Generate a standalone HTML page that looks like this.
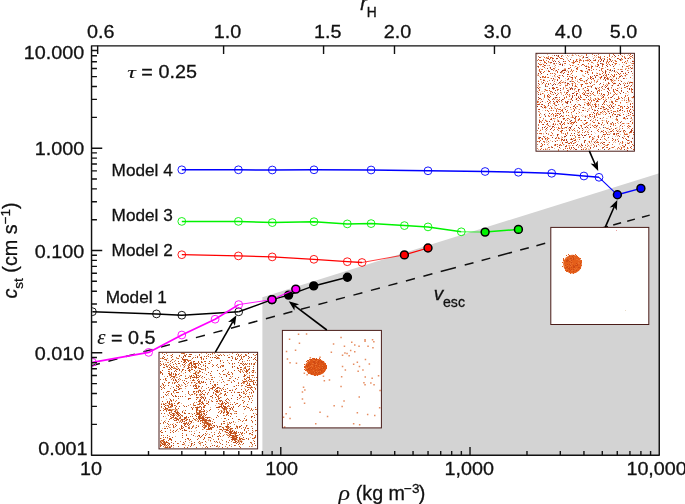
<!DOCTYPE html>
<html lang="en"><head><meta charset="utf-8"><title>c_st vs rho</title>
<style>html,body{margin:0;padding:0;background:#fff;overflow:hidden;}svg{display:block;}text{font-family:"Liberation Sans",Arial,Helvetica,sans-serif;fill:#111;stroke:#111;stroke-width:0.3px;}.it{font-family:"Liberation Serif","DejaVu Serif",serif;font-style:italic;stroke-width:0.1px;}.si{font-style:italic;}</style></head><body>
<svg width="685" height="504" viewBox="0 0 685 504">
<rect x="0" y="0" width="685" height="504" fill="#ffffff"/>
<polygon points="262.4,297.2 659.25,173.2 659.25,455.15 262.4,455.15" fill="#d3d3d3"/>
<path d="M91.5 365.80L99.9 363.55 M108.4 361.25L117.4 358.82 M125.9 356.53L134.9 354.10 M143.4 351.80L152.4 349.37 M160.9 347.08L169.9 344.65 M178.4 342.35L187.4 339.92 M195.9 337.63L204.9 335.20 M213.4 332.90L222.4 330.47 M230.9 328.18L239.9 325.75 M248.4 323.45L257.4 321.02 M265.9 318.73L274.9 316.30 M283.4 314.00L292.4 311.57 M300.9 309.28L309.9 306.85 M318.4 304.55L327.4 302.12 M335.9 299.83L344.9 297.40 M353.4 295.10L362.4 292.67 M370.9 290.38L379.9 287.95 M388.4 285.65L397.4 283.22 M405.9 280.93L414.9 278.50 M423.4 276.20L432.4 273.77 M440.7 271.53L455.9 267.43 M464.7 265.05L473.5 262.67 M481.6 260.49L490.3 258.14 M498.0 256.06L512.0 252.28 M520.2 250.06L528.8 247.74 M536.4 245.69L545.2 243.31 M553.5 241.07L562.0 238.78 M570.0 236.62L578.5 234.32 M586.0 232.30L594.5 230.00 M600.0 228.52L608.0 226.36 M613.2 224.95L621.1 222.82 M627.2 221.17L634.9 219.10 M642.0 217.18L649.7 215.10" stroke="#111" stroke-width="1.5" fill="none"/>
<clipPath id="cp"><rect x="91.55" y="45.85" width="567.7" height="409.29999999999995"/></clipPath>
<g clip-path="url(#cp)">
<polyline points="181.8,169.8 238.4,169.8 272.3,170.0 314.0,169.8 371.1,170.0 428.0,170.8 485.1,171.5 518.4,172.3 551.7,173.3 583.9,176.0 599.0,177.3" fill="none" stroke="#0000ff" stroke-width="1.5" stroke-linejoin="round"/>
<polyline points="599.0,177.3 617.4,194.8" fill="none" stroke="#0000ff" stroke-width="1.1"/>
<polyline points="617.4,194.8 640.9,188.4" fill="none" stroke="#0000ff" stroke-width="1.5" stroke-linejoin="round"/>
<circle cx="181.8" cy="169.8" r="3.9" fill="none" stroke="#0000ff" stroke-width="0.9"/>
<circle cx="238.4" cy="169.8" r="3.9" fill="none" stroke="#0000ff" stroke-width="0.9"/>
<circle cx="272.3" cy="170.0" r="3.9" fill="none" stroke="#0000ff" stroke-width="0.9"/>
<circle cx="314.0" cy="169.8" r="3.9" fill="none" stroke="#0000ff" stroke-width="0.9"/>
<circle cx="371.1" cy="170.0" r="3.9" fill="none" stroke="#0000ff" stroke-width="0.9"/>
<circle cx="428.0" cy="170.8" r="3.9" fill="none" stroke="#0000ff" stroke-width="0.9"/>
<circle cx="485.1" cy="171.5" r="3.9" fill="none" stroke="#0000ff" stroke-width="0.9"/>
<circle cx="518.4" cy="172.3" r="3.9" fill="none" stroke="#0000ff" stroke-width="0.9"/>
<circle cx="551.7" cy="173.3" r="3.9" fill="none" stroke="#0000ff" stroke-width="0.9"/>
<circle cx="583.9" cy="176.0" r="3.9" fill="none" stroke="#0000ff" stroke-width="0.9"/>
<circle cx="599.0" cy="177.3" r="3.9" fill="none" stroke="#0000ff" stroke-width="0.9"/>
<circle cx="617.4" cy="194.8" r="3.95" fill="#0000ff" stroke="#000" stroke-width="1.5"/>
<circle cx="640.9" cy="188.4" r="3.95" fill="#0000ff" stroke="#000" stroke-width="1.5"/>
<polyline points="181.8,221.4 238.4,221.4 272.3,222.6 314.0,221.7 347.3,223.9 371.1,223.6 404.4,225.6 428.0,226.9 461.3,231.8" fill="none" stroke="#00f200" stroke-width="1.5" stroke-linejoin="round"/>
<polyline points="461.3,231.8 485.1,232.1" fill="none" stroke="#00f200" stroke-width="0.75"/>
<polyline points="485.1,232.1 518.4,229.4" fill="none" stroke="#00f200" stroke-width="1.5" stroke-linejoin="round"/>
<circle cx="181.8" cy="221.4" r="3.9" fill="none" stroke="#00f200" stroke-width="0.9"/>
<circle cx="238.4" cy="221.4" r="3.9" fill="none" stroke="#00f200" stroke-width="0.9"/>
<circle cx="272.3" cy="222.6" r="3.9" fill="none" stroke="#00f200" stroke-width="0.9"/>
<circle cx="314.0" cy="221.7" r="3.9" fill="none" stroke="#00f200" stroke-width="0.9"/>
<circle cx="347.3" cy="223.9" r="3.9" fill="none" stroke="#00f200" stroke-width="0.9"/>
<circle cx="371.1" cy="223.6" r="3.9" fill="none" stroke="#00f200" stroke-width="0.9"/>
<circle cx="404.4" cy="225.6" r="3.9" fill="none" stroke="#00f200" stroke-width="0.9"/>
<circle cx="428.0" cy="226.9" r="3.9" fill="none" stroke="#00f200" stroke-width="0.9"/>
<circle cx="461.3" cy="231.8" r="3.9" fill="none" stroke="#00f200" stroke-width="0.9"/>
<circle cx="485.1" cy="232.1" r="3.95" fill="#00f200" stroke="#000" stroke-width="1.5"/>
<circle cx="518.4" cy="229.4" r="3.95" fill="#00f200" stroke="#000" stroke-width="1.5"/>
<polyline points="181.8,254.7 238.4,255.9 272.2,256.9 313.9,259.3 347.3,261.7 362.0,262.5" fill="none" stroke="#ff0000" stroke-width="1.3" stroke-linejoin="round"/>
<polyline points="362.0,262.5 404.4,254.9" fill="none" stroke="#ff0000" stroke-width="0.75"/>
<polyline points="404.4,254.9 428.0,248.0" fill="none" stroke="#ff0000" stroke-width="1.3" stroke-linejoin="round"/>
<circle cx="181.8" cy="254.7" r="3.9" fill="none" stroke="#ff0000" stroke-width="0.9"/>
<circle cx="238.4" cy="255.9" r="3.9" fill="none" stroke="#ff0000" stroke-width="0.9"/>
<circle cx="272.2" cy="256.9" r="3.9" fill="none" stroke="#ff0000" stroke-width="0.9"/>
<circle cx="313.9" cy="259.3" r="3.9" fill="none" stroke="#ff0000" stroke-width="0.9"/>
<circle cx="347.3" cy="261.7" r="3.9" fill="none" stroke="#ff0000" stroke-width="0.9"/>
<circle cx="362.0" cy="262.5" r="3.9" fill="none" stroke="#ff0000" stroke-width="0.9"/>
<circle cx="404.4" cy="254.9" r="3.95" fill="#ff0000" stroke="#000" stroke-width="1.5"/>
<circle cx="428.0" cy="248.0" r="3.95" fill="#ff0000" stroke="#000" stroke-width="1.5"/>
<polyline points="92.4,311.7 156.5,313.9 181.8,315.2 238.7,311.8" fill="none" stroke="#000000" stroke-width="1.5" stroke-linejoin="round"/>
<polyline points="238.7,311.8 272.0,299.6" fill="none" stroke="#000000" stroke-width="1.5"/>
<polyline points="272.0,299.6 288.6,295.1 313.7,285.9 347.4,277.2" fill="none" stroke="#000000" stroke-width="1.5" stroke-linejoin="round"/>
<circle cx="92.4" cy="311.7" r="3.9" fill="none" stroke="#000000" stroke-width="0.9"/>
<circle cx="156.5" cy="313.9" r="3.9" fill="none" stroke="#000000" stroke-width="0.9"/>
<circle cx="181.8" cy="315.2" r="3.9" fill="none" stroke="#000000" stroke-width="0.9"/>
<circle cx="238.7" cy="311.8" r="3.9" fill="none" stroke="#000000" stroke-width="0.9"/>
<circle cx="272.0" cy="299.6" r="3.95" fill="#000000" stroke="#000" stroke-width="1.5"/>
<circle cx="288.6" cy="295.1" r="3.95" fill="#000000" stroke="#000" stroke-width="1.5"/>
<circle cx="313.7" cy="285.9" r="3.95" fill="#000000" stroke="#000" stroke-width="1.5"/>
<circle cx="347.4" cy="277.2" r="3.95" fill="#000000" stroke="#000" stroke-width="1.5"/>
<polyline points="92.4,362.3 148.6,352.4 181.8,335.0 215.1,319.2 238.7,304.6" fill="none" stroke="#ff00ff" stroke-width="1.7" stroke-linejoin="round"/>
<polyline points="238.7,304.6 272.0,299.6" fill="none" stroke="#ff00ff" stroke-width="0.9"/>
<polyline points="272.0,299.6 295.8,289.1" fill="none" stroke="#ff00ff" stroke-width="1.1" stroke-linejoin="round"/>
<circle cx="92.4" cy="362.3" r="3.9" fill="none" stroke="#ff00ff" stroke-width="0.9"/>
<circle cx="148.6" cy="352.4" r="3.9" fill="none" stroke="#ff00ff" stroke-width="0.9"/>
<circle cx="181.8" cy="335.0" r="3.9" fill="none" stroke="#ff00ff" stroke-width="0.9"/>
<circle cx="215.1" cy="319.2" r="3.9" fill="none" stroke="#ff00ff" stroke-width="0.9"/>
<circle cx="238.7" cy="304.6" r="3.9" fill="none" stroke="#ff00ff" stroke-width="0.9"/>
<circle cx="272.0" cy="299.6" r="3.95" fill="#ff00ff" stroke="#000" stroke-width="1.5"/>
<circle cx="295.8" cy="289.1" r="3.95" fill="#ff00ff" stroke="#000" stroke-width="1.5"/>
</g>
<rect x="536.0" y="53.3" width="98.4" height="97.9" fill="#ffffff"/>
<path d="M554 103.5h1M597 130.5h1M546 83.5h1M631 146.5h1M587 60.5h1M633 149.5h1M567 76.5h1M612 80.5h1M629 126.5h1M548 77.5h1M555 124.5h1M549 116.5h1M548 94.5h1M557 79.5h1M565 61.5h1M592 137.5h1M608 144.5h1M555 145.5h1M540 146.5h1M553 123.5h1M543 76.5h1M590 136.5h1M579 60.5h1M550 57.5h1M604 146.5h1M539 115.5h1M567 150.5h1M608 121.5h1M545 126.5h1M579 139.5h1M621 91.5h1M550 101.5h1M580 80.5h1M557 94.5h1M597 101.5h1M544 57.5h1M621 58.5h1M550 58.5h1M602 73.5h1M582 71.5h1M538 99.5h1M604 104.5h1M574 130.5h1M624 62.5h1M573 108.5h1M628 98.5h1M606 132.5h1M544 96.5h1M569 129.5h1M550 68.5h1M586 123.5h1M617 120.5h1M564 124.5h1M592 73.5h1M588 102.5h1M615 140.5h1M555 113.5h1M588 96.5h1M588 69.5h1M619 76.5h1M626 63.5h1M594 55.5h1M586 55.5h1M623 131.5h1M604 136.5h1M615 93.5h1M623 138.5h1M598 114.5h1M633 115.5h1M573 63.5h1M594 127.5h1M541 143.5h1M552 99.5h1M572 81.5h1M560 58.5h1M609 59.5h1M632 144.5h1M578 100.5h1M630 77.5h1M579 118.5h1M593 94.5h1M611 105.5h1M633 145.5h1M607 77.5h1M547 139.5h1M612 114.5h1M540 60.5h1M597 64.5h1M590 114.5h1M615 89.5h1M544 62.5h1M591 100.5h1M572 65.5h1M625 96.5h1M627 140.5h1M572 89.5h1M545 62.5h1M558 127.5h1M575 86.5h1M587 122.5h1M608 149.5h1M542 83.5h1M587 103.5h1M563 149.5h1M600 77.5h1M572 130.5h1M552 69.5h1M544 80.5h1M583 99.5h1M629 110.5h1M616 74.5h1M589 104.5h1M581 147.5h1M605 77.5h1M614 74.5h1M607 85.5h1M616 63.5h1M602 122.5h1M545 76.5h1M625 95.5h1M575 121.5h1M600 112.5h1M632 103.5h1M605 134.5h1M597 73.5h1M545 77.5h1M568 143.5h1M548 147.5h1M591 79.5h1M615 111.5h1M564 140.5h1M617 72.5h1M573 111.5h1M550 91.5h1M598 57.5h1M629 111.5h1M582 93.5h1M583 149.5h1M594 60.5h1M542 120.5h1M540 140.5h1M627 148.5h1M565 142.5h1M623 73.5h1M617 88.5h1M541 64.5h1M605 73.5h1M572 117.5h1M579 104.5h1M561 131.5h1M632 57.5h1M581 126.5h1M585 71.5h1M612 130.5h1M559 101.5h1M594 122.5h1M543 141.5h1M562 110.5h1M542 93.5h1M572 75.5h1M630 58.5h1M577 61.5h1M540 149.5h1M559 78.5h1M590 77.5h1M620 110.5h1M622 98.5h1M552 73.5h1M566 97.5h1M620 73.5h1M567 94.5h1M564 122.5h1M576 91.5h1M553 118.5h1M569 94.5h1M604 56.5h1M539 87.5h1M622 108.5h1M624 57.5h1M566 88.5h1M589 114.5h1M591 134.5h1M552 113.5h1M609 105.5h1M543 60.5h1M546 121.5h1M613 91.5h1M605 85.5h1M605 114.5h1M549 90.5h1M593 144.5h1M630 67.5h1M597 92.5h1M541 122.5h1M632 65.5h1M589 100.5h1M572 83.5h1M614 68.5h1M584 65.5h1M558 100.5h1M544 71.5h1M583 94.5h1M614 92.5h1M542 107.5h1M539 70.5h1M548 61.5h1M613 124.5h1M602 71.5h1M537 102.5h1M575 85.5h1M563 119.5h1M598 90.5h1M603 97.5h1M613 103.5h1M560 131.5h1M589 141.5h1M548 71.5h1M543 149.5h1M578 55.5h1M597 81.5h1M603 99.5h1M571 73.5h1M566 93.5h1M551 114.5h1M576 98.5h1M559 109.5h1M602 97.5h1M627 91.5h1M565 120.5h1M601 77.5h1M545 89.5h1M573 123.5h1M581 84.5h1M557 89.5h1M608 62.5h1M597 125.5h1M561 132.5h1M607 128.5h1M549 108.5h1M576 59.5h1M576 113.5h1M539 64.5h1M572 95.5h1M630 54.5h1M586 126.5h1M627 126.5h1M608 94.5h1M625 61.5h1M609 90.5h1M580 96.5h1M607 61.5h1M601 106.5h1M566 145.5h1M548 138.5h1M584 120.5h1M574 128.5h1M594 104.5h1M574 109.5h1M609 64.5h1M612 75.5h1M628 123.5h1M549 100.5h1M595 106.5h1M542 144.5h1M559 97.5h1M601 60.5h1M587 88.5h1M585 73.5h1M604 94.5h1M550 83.5h1M627 147.5h1M596 113.5h1M610 131.5h1M587 86.5h1M553 68.5h1M559 117.5h1M562 104.5h1M613 129.5h1M573 60.5h1M550 119.5h1M628 97.5h1M543 72.5h1M558 61.5h1M626 102.5h1M618 98.5h1M542 69.5h1M581 71.5h1M596 89.5h1M577 106.5h1M581 86.5h1M627 136.5h1M593 69.5h1M570 107.5h1M537 101.5h1M562 109.5h1M579 62.5h1M614 76.5h1M616 130.5h1M561 140.5h1M565 134.5h1M631 142.5h1M603 130.5h1M605 131.5h1M615 83.5h1M539 69.5h1M603 103.5h1M628 115.5h1M576 93.5h1M559 99.5h1M578 120.5h1M598 144.5h1M551 107.5h1M563 123.5h1M578 64.5h1M592 125.5h1M567 148.5h1M575 139.5h1M561 130.5h1M621 97.5h1M608 82.5h1M578 116.5h1M558 128.5h1M616 134.5h1M607 145.5h1M553 114.5h1M595 98.5h1M616 90.5h1M621 75.5h1M558 113.5h1M569 96.5h1M553 88.5h1M543 64.5h1M539 121.5h1M571 88.5h1M566 111.5h1M622 126.5h1M613 139.5h1M613 113.5h1M564 72.5h1M608 97.5h1M625 134.5h1M544 77.5h1M630 106.5h1M551 91.5h1M598 64.5h1M594 110.5h1M623 118.5h1M592 114.5h1M600 74.5h1M615 123.5h1M540 130.5h1M550 73.5h1M567 79.5h1M574 105.5h1M631 89.5h1M591 77.5h1M544 137.5h1M541 133.5h1M540 57.5h1M551 108.5h1M627 66.5h1M572 122.5h1M571 112.5h1M633 134.5h1M550 93.5h1M591 66.5h1M568 112.5h1M598 60.5h1M612 147.5h1M576 71.5h1M602 147.5h1M540 98.5h1M589 136.5h1M559 57.5h1M570 65.5h1M622 107.5h1M598 99.5h1M564 98.5h1M585 131.5h1M575 142.5h1M583 88.5h1M602 68.5h1M599 99.5h1M557 115.5h1M540 102.5h1M572 71.5h1M621 147.5h1M576 116.5h1M625 83.5h1M622 62.5h1M561 127.5h1M558 138.5h1M571 99.5h1M607 57.5h1M598 131.5h1M568 72.5h1M545 107.5h1M601 69.5h1M586 122.5h1M601 93.5h1M581 78.5h1M552 133.5h1M544 95.5h1M539 84.5h1M613 62.5h1M611 124.5h1M617 119.5h1M616 61.5h1M560 124.5h1M569 76.5h1M584 90.5h1M583 56.5h1M621 88.5h1M613 134.5h1M623 123.5h1M601 98.5h1M619 59.5h1M541 99.5h1M563 118.5h1M624 133.5h1M559 77.5h1M538 63.5h1M618 58.5h1M612 140.5h1M568 115.5h1M557 76.5h1M626 134.5h1M542 124.5h1M632 97.5h1M575 77.5h1M569 61.5h1M596 115.5h1M548 111.5h1M569 148.5h1M565 101.5h1M604 111.5h1M632 128.5h1M597 112.5h1M567 118.5h1M622 142.5h1M542 139.5h1M615 101.5h1M592 93.5h1M564 139.5h1M559 75.5h1M551 57.5h1M572 145.5h1M567 133.5h1M589 59.5h1M613 54.5h1M545 120.5h1M574 148.5h1M548 115.5h1M584 141.5h1M614 75.5h1M632 82.5h1M630 126.5h1M613 108.5h1M577 67.5h1M617 110.5h1M627 110.5h1M590 93.5h1M538 109.5h1M547 58.5h1M606 75.5h1M548 96.5h1M622 145.5h1M554 129.5h1M581 120.5h1M574 62.5h1M571 70.5h1M605 70.5h1M598 98.5h1M579 137.5h1M613 111.5h1M594 80.5h1M589 137.5h1M584 81.5h1M579 119.5h1M628 125.5h1M545 149.5h1M538 59.5h1M624 118.5h1M583 64.5h1M546 57.5h1M545 106.5h1M610 97.5h1M604 134.5h1M549 102.5h1M578 132.5h1M611 101.5h1M603 84.5h1M575 78.5h1M547 101.5h1M559 128.5h1M610 76.5h1M595 104.5h1M599 93.5h1M618 105.5h1M621 148.5h1M600 78.5h1M560 83.5h1M580 95.5h1M616 94.5h1M538 138.5h1M546 90.5h1M593 122.5h1M551 78.5h1M575 140.5h1M571 122.5h1M609 61.5h1M551 118.5h1M566 146.5h1M539 104.5h1M610 69.5h1M544 67.5h1M539 133.5h1M544 144.5h1M594 100.5h1M547 127.5h1M621 106.5h1M627 106.5h1M579 112.5h1M557 101.5h1M620 102.5h1M553 58.5h1M561 145.5h1M581 125.5h1M548 125.5h1M609 55.5h1M581 97.5h1M598 129.5h1M580 59.5h1M587 83.5h1M558 69.5h1M556 111.5h1M588 86.5h1M547 137.5h1M544 61.5h1M588 63.5h1M550 62.5h1M610 65.5h1M593 92.5h1M570 67.5h1M571 143.5h1M588 74.5h1M618 97.5h1M589 115.5h1M619 74.5h1M596 114.5h1M630 114.5h1M553 94.5h1M603 142.5h1M594 117.5h1M633 61.5h1M630 82.5h1M592 85.5h1M603 132.5h1M631 88.5h1M539 138.5h1M627 60.5h1M628 68.5h1M576 86.5h1M598 142.5h1M572 135.5h1M625 145.5h1M550 96.5h1M564 97.5h1M626 86.5h1M557 72.5h1M582 110.5h1M606 62.5h1M580 78.5h1M537 87.5h1M547 96.5h1M632 122.5h1M633 132.5h1M557 146.5h1M584 104.5h1M553 87.5h1M630 132.5h1M583 60.5h1M565 63.5h1M615 63.5h1M597 139.5h1M544 105.5h1M542 76.5h1M565 127.5h1M559 64.5h1M622 128.5h1M618 80.5h1M545 85.5h1M559 114.5h1M582 130.5h1M600 57.5h1M633 110.5h1M545 65.5h1M605 100.5h1M618 55.5h1M615 104.5h1M576 76.5h1M622 56.5h1M567 110.5h1M576 60.5h1M539 90.5h1M585 145.5h1M578 119.5h1M572 78.5h1M585 66.5h1M584 93.5h1M602 111.5h1M561 110.5h1M620 106.5h1M581 85.5h1M579 89.5h1M562 142.5h1M590 148.5h1M597 142.5h1M599 70.5h1M620 115.5h1M574 95.5h1M609 142.5h1M625 75.5h1M616 99.5h1M584 99.5h1M560 144.5h1M540 79.5h1M557 144.5h1M620 60.5h1M576 122.5h1M585 83.5h1M562 82.5h1M586 54.5h1M571 138.5h1M613 83.5h1M623 114.5h1M557 108.5h1M604 138.5h1M624 111.5h1M565 148.5h1M627 108.5h1M589 82.5h1M542 138.5h1M607 147.5h1M538 92.5h1M537 141.5h1M562 116.5h1M599 87.5h1M624 87.5h1M602 66.5h1M551 135.5h1M595 125.5h1M612 82.5h1M573 62.5h1M573 138.5h1M570 123.5h1M633 63.5h1M609 58.5h1M581 134.5h1M632 123.5h1M597 75.5h1M571 133.5h1M622 141.5h1M540 117.5h1M561 139.5h1M588 67.5h1M555 115.5h1M585 123.5h1M589 142.5h1M618 135.5h1M554 121.5h1M548 141.5h1M629 132.5h1M540 133.5h1M541 104.5h1M626 108.5h1M566 115.5h1M613 90.5h1M547 110.5h1M591 67.5h1M537 104.5h1M592 72.5h1M562 143.5h1M568 74.5h1M570 142.5h1M610 108.5h1M580 70.5h1M599 123.5h1M561 58.5h1M598 136.5h1M577 69.5h1M603 64.5h1M587 71.5h1M563 76.5h1M632 107.5h1M565 85.5h1M565 69.5h1M618 147.5h1M538 81.5h1M557 71.5h1" stroke="#de5a20" stroke-width="1" fill="none" shape-rendering="crispEdges"/><path d="M539 98.5h1M579 135.5h1M544 114.5h1M557 80.5h1M630 131.5h1M566 139.5h1M572 97.5h1M625 73.5h1M592 66.5h1M571 139.5h1M620 109.5h1M593 112.5h1M632 138.5h1M607 91.5h1M604 101.5h1M556 70.5h1M624 117.5h1M556 95.5h1M563 70.5h1M605 71.5h1M596 126.5h1M549 97.5h1M598 123.5h1M590 127.5h1M583 57.5h1M614 70.5h1M567 90.5h1M557 135.5h1M630 104.5h1M603 60.5h1M588 93.5h1M562 99.5h1M582 84.5h1M548 103.5h1M573 93.5h1M613 66.5h1M538 73.5h1M585 127.5h1M585 120.5h1M555 61.5h1M631 131.5h1M538 88.5h1M600 108.5h1M541 73.5h1M553 101.5h1M587 111.5h1M552 126.5h1M574 140.5h1M572 100.5h1M544 65.5h1M615 114.5h1M578 89.5h1M611 61.5h1M625 144.5h1M614 83.5h1M567 92.5h1M560 88.5h1M613 106.5h1M621 81.5h1M587 127.5h1M594 75.5h1M553 126.5h1M562 139.5h1M598 149.5h1M551 128.5h1M618 133.5h1M619 83.5h1M573 106.5h1M574 118.5h1M606 86.5h1M631 130.5h1M624 106.5h1M570 102.5h1M571 98.5h1M624 149.5h1M600 83.5h1M614 55.5h1M591 86.5h1M597 120.5h1M610 126.5h1M576 95.5h1M624 146.5h1M548 105.5h1M566 102.5h1M555 138.5h1M622 110.5h1M590 116.5h1M585 135.5h1M602 104.5h1M579 128.5h1M562 130.5h1M553 78.5h1M540 77.5h1M605 80.5h1M545 138.5h1M557 58.5h1M591 131.5h1M631 82.5h1M620 76.5h1M542 101.5h1M568 78.5h1M576 94.5h1M621 90.5h1M631 68.5h1M537 106.5h1M586 66.5h1M552 137.5h1M569 127.5h1M617 131.5h1M601 76.5h1M554 55.5h1M603 94.5h1M548 58.5h1M614 134.5h1M541 60.5h1M571 126.5h1M604 78.5h1M624 85.5h1M608 74.5h1M547 68.5h1M554 88.5h1M586 57.5h1M617 116.5h1M620 122.5h1M580 105.5h1M544 107.5h1M607 88.5h1M570 121.5h1M564 136.5h1M608 111.5h1M623 78.5h1M630 147.5h1M632 92.5h1M616 116.5h1M575 117.5h1M548 99.5h1M628 140.5h1M588 105.5h1M565 146.5h1M600 139.5h1M585 140.5h1M578 97.5h1M542 104.5h1M595 110.5h1M567 102.5h1M542 127.5h1M612 96.5h1M548 84.5h1M588 134.5h1M578 90.5h1M602 143.5h1M556 87.5h1M631 85.5h1M562 124.5h1M590 147.5h1M566 135.5h1M556 105.5h1M565 136.5h1M561 56.5h1M619 136.5h1M611 79.5h1M559 145.5h1M600 61.5h1M539 109.5h1M587 72.5h1M583 107.5h1M628 143.5h1M539 57.5h1M538 128.5h1M561 100.5h1M544 127.5h1M576 149.5h1M569 130.5h1M569 143.5h1M628 72.5h1M570 59.5h1M566 127.5h1M555 144.5h1M553 124.5h1M585 116.5h1M538 83.5h1M564 70.5h1M584 142.5h1M585 95.5h1M585 87.5h1M614 71.5h1M626 116.5h1M620 84.5h1M597 66.5h1M612 138.5h1M613 76.5h1M555 116.5h1M628 113.5h1M540 137.5h1M588 99.5h1M610 59.5h1M610 116.5h1M582 145.5h1M543 80.5h1M603 96.5h1M549 59.5h1M582 64.5h1M628 136.5h1M583 110.5h1M572 96.5h1M580 99.5h1M631 129.5h1M600 118.5h1M538 94.5h1M610 79.5h1M596 75.5h1M575 149.5h1M555 141.5h1M574 110.5h1M561 121.5h1M612 85.5h1M570 127.5h1M561 71.5h1M622 137.5h1M562 65.5h1M558 56.5h1M575 107.5h1M632 61.5h1M632 55.5h1M578 127.5h1M553 98.5h1M591 91.5h1M616 78.5h1M605 72.5h1M559 82.5h1M597 91.5h1M606 101.5h1M568 68.5h1M594 142.5h1M540 72.5h1M582 135.5h1M588 90.5h1M609 129.5h1M604 142.5h1M608 137.5h1M592 139.5h1M555 97.5h1M618 73.5h1M601 124.5h1M575 61.5h1M627 86.5h1M550 129.5h1M556 58.5h1M566 142.5h1M624 130.5h1M630 112.5h1M549 121.5h1M594 113.5h1M611 112.5h1M570 88.5h1M538 97.5h1M540 94.5h1M571 147.5h1M546 63.5h1M582 128.5h1M579 98.5h1M602 64.5h1M617 90.5h1M631 71.5h1M549 88.5h1M560 116.5h1M555 84.5h1M602 86.5h1M563 59.5h1M565 82.5h1M612 107.5h1M609 113.5h1M584 124.5h1M576 99.5h1M562 64.5h1M586 80.5h1M607 134.5h1M617 58.5h1M556 97.5h1M596 88.5h1M601 59.5h1M623 92.5h1M558 55.5h1M566 140.5h1M615 128.5h1M620 125.5h1M562 75.5h1M570 128.5h1M609 148.5h1M584 94.5h1M603 134.5h1M552 147.5h1M572 141.5h1M543 82.5h1M603 75.5h1M550 67.5h1M594 116.5h1M614 133.5h1M539 137.5h1M576 68.5h1M552 80.5h1M578 135.5h1M556 55.5h1M560 113.5h1M563 112.5h1M593 78.5h1M595 77.5h1M546 128.5h1M597 110.5h1M598 137.5h1M590 76.5h1M565 109.5h1M586 97.5h1M563 73.5h1M597 100.5h1M596 106.5h1M607 123.5h1M632 113.5h1M622 71.5h1M552 88.5h1M559 147.5h1M561 122.5h1M584 135.5h1M567 101.5h1M619 110.5h1M560 90.5h1M556 101.5h1M560 72.5h1M545 116.5h1M551 119.5h1M612 64.5h1M586 68.5h1M607 78.5h1M539 141.5h1M629 89.5h1M600 58.5h1M598 108.5h1M603 107.5h1M560 64.5h1M611 131.5h1M627 118.5h1M564 118.5h1M577 144.5h1M606 108.5h1M621 71.5h1M628 99.5h1M590 78.5h1M570 135.5h1M607 69.5h1M552 92.5h1M618 141.5h1M572 85.5h1M576 145.5h1M588 118.5h1M568 123.5h1M612 102.5h1M587 90.5h1M574 133.5h1M547 95.5h1M589 69.5h1M627 150.5h1M603 61.5h1M596 101.5h1M581 70.5h1M608 83.5h1M543 124.5h1M553 84.5h1M563 140.5h1M596 146.5h1M610 70.5h1M554 63.5h1M611 97.5h1M628 58.5h1M604 59.5h1M539 120.5h1M620 131.5h1M626 139.5h1M547 123.5h1M627 83.5h1M557 113.5h1M603 147.5h1M601 131.5h1M551 62.5h1M553 61.5h1M549 113.5h1M558 121.5h1M622 66.5h1M606 65.5h1M608 89.5h1M558 77.5h1M541 106.5h1M583 137.5h1M611 106.5h1M562 128.5h1M629 88.5h1M612 122.5h1M555 93.5h1M572 77.5h1M552 58.5h1M605 87.5h1M573 147.5h1M631 141.5h1M620 54.5h1M567 83.5h1M539 122.5h1M557 134.5h1M618 85.5h1M615 56.5h1M608 88.5h1M590 120.5h1M575 104.5h1M630 121.5h1M555 90.5h1M609 107.5h1M565 70.5h1M574 122.5h1M595 105.5h1M588 103.5h1M598 65.5h1M561 115.5h1M632 89.5h1M592 109.5h1M577 93.5h1M566 106.5h1M568 83.5h1M587 95.5h1M579 79.5h1M625 58.5h1M630 109.5h1M607 66.5h1M573 143.5h1M613 89.5h1M595 60.5h1M608 92.5h1M590 83.5h1M546 133.5h1M571 77.5h1M595 88.5h1M538 66.5h1M576 125.5h1M570 89.5h1M604 109.5h1M538 104.5h1M620 93.5h1M567 74.5h1M581 144.5h1M567 103.5h1M572 93.5h1M628 107.5h1M549 71.5h1M543 136.5h1M632 106.5h1M557 102.5h1M541 146.5h1M581 149.5h1M562 70.5h1M563 61.5h1M604 77.5h1M547 74.5h1M633 96.5h1M590 60.5h1M617 99.5h1" stroke="#a8361e" stroke-width="1" fill="none" shape-rendering="crispEdges"/><path d="M585 117.5h1M581 80.5h1M617 122.5h1M546 60.5h1M590 97.5h1M545 110.5h1M560 111.5h1M561 72.5h1M553 89.5h1M631 117.5h1M577 130.5h1M596 142.5h1M568 118.5h1M605 109.5h1M566 130.5h1M538 67.5h1M597 117.5h1M614 146.5h1M563 87.5h1M597 141.5h1M557 140.5h1M631 148.5h1M567 141.5h1M615 60.5h1M558 104.5h1M598 104.5h1M618 108.5h1M630 103.5h1M591 101.5h1M629 142.5h1M549 95.5h1M626 66.5h1M612 56.5h1M547 124.5h1M567 142.5h1M558 150.5h1M560 123.5h1M575 120.5h1M591 68.5h1M554 73.5h1M542 145.5h1M608 93.5h1M597 93.5h1M610 93.5h1M631 56.5h1M590 102.5h1M632 115.5h1M615 61.5h1M595 59.5h1M544 141.5h1M606 99.5h1M631 132.5h1M594 115.5h1M609 72.5h1M625 138.5h1M563 95.5h1M589 61.5h1M557 87.5h1M611 74.5h1M568 106.5h1M557 117.5h1M606 120.5h1M571 123.5h1M555 108.5h1M617 108.5h1M554 127.5h1M589 108.5h1M616 118.5h1M617 139.5h1M614 94.5h1M577 68.5h1M573 70.5h1M540 64.5h1M554 75.5h1M559 123.5h1M554 81.5h1M615 100.5h1M625 87.5h1M605 112.5h1M568 79.5h1M537 133.5h1M606 63.5h1M567 84.5h1M596 82.5h1M554 92.5h1M617 111.5h1M547 90.5h1M552 127.5h1M592 121.5h1M560 109.5h1M540 71.5h1M591 70.5h1M587 79.5h1M601 68.5h1M591 141.5h1M587 104.5h1M606 140.5h1M609 83.5h1M585 92.5h1M566 92.5h1M601 137.5h1M546 130.5h1M568 60.5h1M575 88.5h1M593 58.5h1M604 144.5h1M558 83.5h1M595 76.5h1M558 109.5h1M554 68.5h1M538 101.5h1M578 96.5h1M591 106.5h1M632 68.5h1M580 125.5h1M574 82.5h1M574 135.5h1M573 129.5h1M557 99.5h1M573 61.5h1M571 69.5h1M627 88.5h1M610 123.5h1M624 56.5h1M568 91.5h1M589 67.5h1M605 79.5h1M539 114.5h1M601 142.5h1M597 62.5h1M578 91.5h1M568 101.5h1M551 110.5h1M604 107.5h1M574 89.5h1M593 99.5h1M554 99.5h1M596 145.5h1M563 133.5h1M630 86.5h1M570 139.5h1M568 71.5h1M606 78.5h1M631 91.5h1M603 106.5h1M572 79.5h1M623 83.5h1M556 137.5h1M563 144.5h1M620 149.5h1M629 55.5h1M587 131.5h1M632 63.5h1M592 76.5h1M572 115.5h1M608 106.5h1M588 145.5h1M558 93.5h1M628 85.5h1M599 74.5h1M619 114.5h1M548 134.5h1M601 94.5h1M575 137.5h1M549 149.5h1M584 76.5h1M563 116.5h1M612 101.5h1M596 140.5h1M569 84.5h1M549 65.5h1M580 60.5h1M577 81.5h1M579 145.5h1M593 106.5h1M601 87.5h1M601 112.5h1M558 149.5h1M618 69.5h1M551 132.5h1M607 122.5h1M598 135.5h1M575 83.5h1M608 79.5h1M572 84.5h1M594 146.5h1M561 80.5h1M613 95.5h1M619 92.5h1M617 85.5h1M567 132.5h1M612 115.5h1M598 56.5h1M592 54.5h1M602 148.5h1M553 110.5h1M552 87.5h1M593 100.5h1M592 78.5h1M540 121.5h1M591 107.5h1M569 68.5h1M628 127.5h1M607 79.5h1M588 78.5h1M621 69.5h1M607 105.5h1M572 124.5h1M591 87.5h1M547 144.5h1M619 129.5h1M583 61.5h1M587 146.5h1M537 60.5h1M613 147.5h1M569 87.5h1M559 138.5h1M566 85.5h1M573 81.5h1M594 125.5h1M582 132.5h1M622 123.5h1M610 104.5h1M591 82.5h1M558 130.5h1M586 148.5h1M606 76.5h1M555 74.5h1M595 141.5h1M543 118.5h1M607 59.5h1M598 101.5h1M603 144.5h1M608 78.5h1M556 109.5h1M560 85.5h1M543 59.5h1M629 65.5h1M624 78.5h1M622 59.5h1M575 116.5h1M544 91.5h1M548 83.5h1M558 137.5h1M575 118.5h1M606 145.5h1M605 127.5h1M608 109.5h1M563 88.5h1M573 117.5h1M613 125.5h1M551 146.5h1M605 75.5h1M558 89.5h1M571 148.5h1M594 136.5h1M562 55.5h1M602 120.5h1M538 75.5h1M560 81.5h1M631 118.5h1M554 102.5h1M547 81.5h1M555 65.5h1M556 115.5h1M553 70.5h1M585 91.5h1M574 106.5h1M573 122.5h1M612 60.5h1M619 148.5h1M603 72.5h1M607 109.5h1M616 119.5h1M552 60.5h1M588 66.5h1M562 111.5h1M542 66.5h1M595 119.5h1M632 130.5h1M583 92.5h1M572 139.5h1M623 130.5h1M595 99.5h1M544 142.5h1M550 106.5h1M628 137.5h1M560 107.5h1M581 65.5h1M616 101.5h1M599 89.5h1M572 116.5h1M594 84.5h1M571 142.5h1M623 146.5h1M613 133.5h1M541 69.5h1M629 83.5h1M545 139.5h1M611 110.5h1M537 148.5h1M548 70.5h1M606 128.5h1M627 134.5h1M627 70.5h1M632 73.5h1M566 96.5h1M565 94.5h1M627 111.5h1M611 80.5h1M544 122.5h1M607 60.5h1M622 143.5h1M547 86.5h1M627 143.5h1M595 87.5h1M557 124.5h1M551 147.5h1M584 140.5h1M614 98.5h1M617 114.5h1M570 149.5h1M555 105.5h1M588 60.5h1M609 134.5h1M549 147.5h1M537 130.5h1M604 58.5h1M602 65.5h1M606 121.5h1M593 60.5h1M629 82.5h1M579 131.5h1M560 92.5h1M590 105.5h1M537 66.5h1M602 131.5h1M617 133.5h1M578 137.5h1M615 125.5h1M619 98.5h1M581 60.5h1M620 107.5h1M599 114.5h1M562 58.5h1M626 74.5h1M620 69.5h1M599 84.5h1M617 148.5h1M568 90.5h1M539 89.5h1M595 107.5h1M593 147.5h1M611 81.5h1M554 145.5h1M538 111.5h1M606 113.5h1M601 108.5h1M604 95.5h1M553 103.5h1M624 97.5h1M613 131.5h1M562 137.5h1M592 104.5h1M539 71.5h1M626 100.5h1M614 80.5h1M558 120.5h1M593 126.5h1M633 97.5h1M575 66.5h1M594 95.5h1M602 95.5h1M628 100.5h1M538 124.5h1M610 60.5h1M554 60.5h1M606 147.5h1M580 97.5h1M572 55.5h1M563 99.5h1M584 132.5h1M594 145.5h1M548 56.5h1M578 147.5h1M621 121.5h1M596 55.5h1M618 114.5h1M602 63.5h1M546 124.5h1M553 115.5h1M578 104.5h1M542 77.5h1M574 92.5h1M609 56.5h1M582 80.5h1M600 143.5h1M540 113.5h1M553 130.5h1M607 64.5h1M629 57.5h1M591 62.5h1M542 129.5h1M565 133.5h1M593 118.5h1M561 125.5h1M599 91.5h1M625 131.5h1M631 90.5h1M569 119.5h1M545 129.5h1M611 102.5h1M604 89.5h1M586 60.5h1M580 146.5h1M537 91.5h1M614 111.5h1M603 125.5h1M598 54.5h1M575 119.5h1M564 63.5h1M588 132.5h1M570 101.5h1M556 110.5h1M545 84.5h1M577 134.5h1M562 71.5h1M586 134.5h1M538 56.5h1M600 56.5h1M575 136.5h1M561 126.5h1M589 70.5h1M615 139.5h1M613 123.5h1M612 144.5h1M581 145.5h1M565 102.5h1M624 136.5h1M593 138.5h1M556 63.5h1M585 149.5h1M607 144.5h1M627 95.5h1M564 92.5h1M588 125.5h1M602 136.5h1M552 141.5h1M619 77.5h1M610 117.5h1M572 62.5h1M630 56.5h1M592 116.5h1M595 103.5h1M624 134.5h1M602 88.5h1M601 63.5h1M599 127.5h1M570 71.5h1M544 97.5h1M571 87.5h1M579 109.5h1M547 121.5h1M601 90.5h1M622 76.5h1M590 95.5h1M567 55.5h1M547 77.5h1M599 67.5h1M586 83.5h1M598 61.5h1M624 100.5h1M588 89.5h1M603 79.5h1M598 88.5h1M618 78.5h1M620 142.5h1M606 133.5h1M599 57.5h1M619 105.5h1M537 144.5h1M616 133.5h1M541 148.5h1M611 87.5h1M599 90.5h1M604 102.5h1M609 70.5h1M564 69.5h1M625 69.5h1M550 135.5h1M590 99.5h1M611 128.5h1M557 90.5h1M609 54.5h1M607 95.5h1M611 123.5h1M587 93.5h1M592 62.5h1M567 85.5h1M543 66.5h1M554 83.5h1M605 139.5h1M585 60.5h1M598 122.5h1M618 96.5h1M538 125.5h1M549 80.5h1M606 74.5h1M601 70.5h1M596 69.5h1M553 63.5h1M558 134.5h1M549 126.5h1M539 60.5h1M615 64.5h1M614 114.5h1M554 104.5h1M603 117.5h1M557 129.5h1M569 147.5h1M567 120.5h1" stroke="#d8794e" stroke-width="1" fill="none" shape-rendering="crispEdges"/><path d="M580 107.5h1M585 110.5h1M545 131.5h1M600 113.5h1M552 55.5h1M587 115.5h1M564 61.5h1M610 92.5h1M618 91.5h1M629 135.5h1M624 99.5h1M631 92.5h1M611 85.5h1M629 100.5h1M554 69.5h1M624 132.5h1M622 112.5h1M559 121.5h1M561 133.5h1M596 81.5h1M538 80.5h1M538 141.5h1M583 124.5h1M544 106.5h1M613 142.5h1M570 120.5h1M607 110.5h1M579 134.5h1M539 111.5h1M561 55.5h1M566 119.5h1M614 141.5h1M593 84.5h1M605 145.5h1M631 97.5h1M580 56.5h1M616 77.5h1M599 73.5h1M588 130.5h1M619 87.5h1M628 101.5h1M618 140.5h1M575 131.5h1M556 114.5h1M598 105.5h1M608 132.5h1M624 84.5h1M622 67.5h1M547 57.5h1M590 103.5h1M617 149.5h1M581 127.5h1M568 99.5h1M586 95.5h1M555 70.5h1M608 128.5h1M606 61.5h1M588 91.5h1M561 92.5h1M564 123.5h1M587 144.5h1M595 65.5h1M597 98.5h1M580 79.5h1M571 80.5h1M603 108.5h1M560 148.5h1M608 134.5h1M546 138.5h1M603 82.5h1M564 68.5h1M539 103.5h1M614 60.5h1M589 129.5h1M545 115.5h1M599 77.5h1M630 118.5h1M606 122.5h1M625 93.5h1M619 131.5h1M629 115.5h1M548 116.5h1M611 71.5h1M567 106.5h1M589 146.5h1M583 75.5h1M541 145.5h1M614 91.5h1M620 103.5h1M613 94.5h1M582 122.5h1M547 92.5h1M538 149.5h1M565 86.5h1M550 63.5h1M576 61.5h1M610 133.5h1M574 86.5h1M576 55.5h1M538 86.5h1M586 129.5h1M550 140.5h1M548 133.5h1M617 136.5h1M578 141.5h1M607 111.5h1M548 97.5h1M587 77.5h1M591 140.5h1M628 54.5h1M623 132.5h1M582 70.5h1M621 149.5h1M606 84.5h1M605 67.5h1M579 61.5h1M554 76.5h1M563 115.5h1M545 148.5h1M594 81.5h1M609 77.5h1M574 143.5h1M571 117.5h1M612 103.5h1M628 70.5h1M585 57.5h1M592 138.5h1M613 77.5h1M596 104.5h1M584 127.5h1M610 124.5h1M581 143.5h1M599 59.5h1M554 107.5h1M632 119.5h1M603 89.5h1M554 79.5h1M574 142.5h1M568 128.5h1M587 59.5h1M594 57.5h1M606 118.5h1M557 120.5h1M560 63.5h1M543 93.5h1M571 109.5h1M627 128.5h1M597 113.5h1M567 122.5h1M629 133.5h1M561 102.5h1M591 94.5h1M568 56.5h1M626 78.5h1M597 80.5h1M600 114.5h1M606 71.5h1M566 103.5h1M538 74.5h1M628 92.5h1M600 132.5h1M571 81.5h1M546 86.5h1M556 138.5h1M567 126.5h1M547 149.5h1M578 146.5h1M585 108.5h1M594 109.5h1M626 68.5h1M540 87.5h1M620 134.5h1M621 124.5h1M555 118.5h1M595 120.5h1M554 66.5h1M577 132.5h1M564 137.5h1M577 87.5h1M546 140.5h1M553 116.5h1M547 129.5h1M549 62.5h1M557 97.5h1M590 98.5h1M619 64.5h1M620 146.5h1M552 105.5h1M590 143.5h1M547 65.5h1M582 57.5h1M543 133.5h1M614 63.5h1M610 110.5h1M563 81.5h1M571 129.5h1M627 102.5h1M623 64.5h1M591 65.5h1M632 83.5h1M621 60.5h1M631 120.5h1M619 143.5h1M593 120.5h1M540 65.5h1M616 120.5h1M561 138.5h1M560 75.5h1M538 102.5h1M625 68.5h1M629 143.5h1M566 71.5h1M548 104.5h1M581 112.5h1M557 56.5h1M541 79.5h1M567 88.5h1M625 76.5h1M622 69.5h1M628 81.5h1M546 120.5h1M586 90.5h1M545 102.5h1M584 100.5h1M547 148.5h1M574 88.5h1M600 128.5h1M624 82.5h1M629 128.5h1M569 81.5h1M587 101.5h1M571 104.5h1M589 149.5h1M607 84.5h1M602 113.5h1M586 93.5h1M580 84.5h1M573 140.5h1M632 67.5h1M623 117.5h1M588 149.5h1M591 145.5h1M548 62.5h1M562 101.5h1M615 136.5h1M557 121.5h1M604 86.5h1M579 132.5h1M591 112.5h1M632 75.5h1M625 119.5h1M541 121.5h1M546 58.5h1M564 108.5h1M618 99.5h1M603 102.5h1M585 99.5h1M587 105.5h1M566 57.5h1M589 86.5h1M569 146.5h1M598 79.5h1M616 71.5h1M598 113.5h1M627 58.5h1M584 147.5h1M625 118.5h1M618 121.5h1M555 123.5h1M618 111.5h1M582 58.5h1M564 82.5h1M629 140.5h1M590 86.5h1M583 123.5h1M577 84.5h1M575 84.5h1M608 98.5h1M603 68.5h1M552 57.5h1M564 128.5h1M586 103.5h1M551 94.5h1M595 127.5h1M579 82.5h1M622 100.5h1M543 119.5h1M567 123.5h1M567 70.5h1M604 124.5h1M618 130.5h1M602 135.5h1M573 65.5h1M576 69.5h1M632 109.5h1M591 81.5h1M543 79.5h1M609 132.5h1M627 74.5h1M580 120.5h1M571 57.5h1M550 110.5h1M554 64.5h1M538 127.5h1M613 79.5h1M615 142.5h1M614 65.5h1M541 81.5h1M576 106.5h1M575 108.5h1M548 57.5h1M609 102.5h1M588 109.5h1M587 132.5h1M573 145.5h1M552 108.5h1M550 126.5h1M537 75.5h1M569 64.5h1M578 111.5h1M581 115.5h1M632 84.5h1M602 118.5h1M602 106.5h1M547 54.5h1M538 137.5h1M581 55.5h1M620 113.5h1M572 54.5h1M631 111.5h1M538 85.5h1M575 80.5h1M566 112.5h1M628 66.5h1M606 104.5h1M587 143.5h1M572 72.5h1M552 59.5h1M539 112.5h1M621 59.5h1M541 138.5h1M571 62.5h1M564 107.5h1M577 59.5h1M548 143.5h1M618 138.5h1M610 99.5h1M563 113.5h1M544 94.5h1M579 59.5h1M539 131.5h1M624 125.5h1M564 127.5h1M570 145.5h1M563 89.5h1M626 133.5h1M595 143.5h1M598 111.5h1M631 101.5h1M598 106.5h1M630 100.5h1M586 149.5h1M545 136.5h1M547 106.5h1M582 107.5h1M568 145.5h1M552 76.5h1M596 99.5h1M561 136.5h1M579 92.5h1M615 80.5h1M593 63.5h1M555 79.5h1M612 78.5h1M561 82.5h1M608 69.5h1M616 128.5h1M595 95.5h1M624 147.5h1M613 81.5h1M565 107.5h1M602 58.5h1M556 127.5h1M597 136.5h1M560 145.5h1M577 100.5h1M570 77.5h1M627 61.5h1M541 71.5h1M584 82.5h1M589 124.5h1M541 82.5h1M583 81.5h1M612 104.5h1M611 147.5h1M590 124.5h1M577 98.5h1M544 89.5h1M540 93.5h1M604 74.5h1M552 124.5h1M630 141.5h1M608 116.5h1M585 147.5h1M590 123.5h1M601 96.5h1M588 141.5h1M630 62.5h1M582 116.5h1M539 142.5h1M627 142.5h1M578 82.5h1M546 142.5h1M558 111.5h1M596 73.5h1M550 103.5h1M624 75.5h1M555 71.5h1M571 83.5h1M543 77.5h1M611 88.5h1M608 87.5h1M624 123.5h1M585 102.5h1M593 139.5h1M631 63.5h1M553 79.5h1M555 98.5h1M545 108.5h1M542 128.5h1M596 66.5h1M570 74.5h1M561 93.5h1M569 95.5h1M557 84.5h1M553 135.5h1M596 57.5h1M627 82.5h1M567 58.5h1M575 54.5h1M608 63.5h1M569 145.5h1M598 95.5h1M603 112.5h1M584 102.5h1M576 141.5h1M613 84.5h1M546 107.5h1M540 106.5h1M620 80.5h1M624 54.5h1M563 82.5h1M570 99.5h1M621 55.5h1M618 84.5h1M623 147.5h1M610 129.5h1M615 72.5h1M619 126.5h1M628 65.5h1M617 101.5h1M614 57.5h1M555 67.5h1M574 138.5h1M603 114.5h1M629 101.5h1M583 148.5h1M593 79.5h1M614 106.5h1M586 81.5h1M596 128.5h1M539 76.5h1M557 136.5h1M595 66.5h1M619 144.5h1M574 121.5h1M586 65.5h1M611 57.5h1M559 85.5h1M573 149.5h1M603 109.5h1M627 55.5h1M561 128.5h1M543 56.5h1M576 108.5h1M622 106.5h1M589 95.5h1M539 117.5h1M589 116.5h1M591 108.5h1M588 128.5h1M573 55.5h1M547 138.5h1M588 72.5h1M579 66.5h1M628 148.5h1M600 99.5h1M582 75.5h1M600 95.5h1M540 74.5h1M602 123.5h1M561 94.5h1M618 123.5h1M554 144.5h1M554 118.5h1M579 58.5h1M545 90.5h1M554 125.5h1M588 104.5h1M615 119.5h1M540 62.5h1M565 68.5h1M583 129.5h1M625 72.5h1M591 119.5h1M571 114.5h1M539 119.5h1M557 119.5h1M563 128.5h1M561 101.5h1M627 123.5h1M579 56.5h1M565 80.5h1M554 148.5h1" stroke="#f0b898" stroke-width="1" fill="none" shape-rendering="crispEdges"/><path d="M626 98.5h1M603 58.5h1M555 77.5h1M537 74.5h1M613 71.5h1M557 92.5h1M546 149.5h1M577 64.5h1M594 82.5h1M603 110.5h1M608 140.5h1M623 137.5h1M597 90.5h1M544 115.5h1M583 76.5h1M617 135.5h1M567 134.5h1M597 97.5h1M626 123.5h1M621 130.5h1M628 62.5h1M595 56.5h1M555 76.5h1M603 85.5h1M571 113.5h1M561 73.5h1M619 112.5h1M562 63.5h1M617 94.5h1M602 141.5h1M630 65.5h1M604 135.5h1M554 97.5h1M594 102.5h1M561 141.5h1M569 99.5h1M559 144.5h1M601 86.5h1M604 127.5h1M596 125.5h1M630 108.5h1M628 94.5h1M565 55.5h1M556 59.5h1M587 66.5h1M545 119.5h1M577 79.5h1M600 149.5h1M608 142.5h1M544 83.5h1M605 108.5h1M575 91.5h1M630 116.5h1M550 125.5h1M584 105.5h1M565 147.5h1M543 98.5h1M593 141.5h1M562 105.5h1M625 63.5h1M552 134.5h1M616 117.5h1M538 90.5h1M591 98.5h1M628 108.5h1M552 66.5h1M586 116.5h1M569 116.5h1M616 112.5h1M550 122.5h1M556 144.5h1M601 125.5h1M556 99.5h1M567 59.5h1M559 60.5h1M577 131.5h1M558 125.5h1M560 82.5h1M582 74.5h1M601 130.5h1M559 83.5h1M626 118.5h1M588 58.5h1M545 81.5h1M563 106.5h1M554 140.5h1M551 84.5h1M541 84.5h1M545 132.5h1M552 120.5h1M617 129.5h1M572 86.5h1M631 112.5h1M540 92.5h1M563 56.5h1M574 77.5h1M540 68.5h1M551 73.5h1M620 75.5h1M565 87.5h1M601 145.5h1M542 91.5h1M563 69.5h1M575 99.5h1M562 118.5h1M550 102.5h1M602 76.5h1M584 116.5h1M604 120.5h1M584 108.5h1M547 97.5h1M611 100.5h1M626 149.5h1M564 91.5h1M596 127.5h1M553 64.5h1M616 127.5h1M570 95.5h1M596 139.5h1M574 76.5h1M594 111.5h1M582 149.5h1M608 84.5h1M627 133.5h1M632 60.5h1M619 128.5h1M613 68.5h1M572 63.5h1M627 112.5h1M632 120.5h1M585 144.5h1M576 66.5h1M616 135.5h1M623 145.5h1M582 88.5h1M550 92.5h1M538 136.5h1M586 82.5h1M611 77.5h1M541 94.5h1M544 79.5h1M547 142.5h1M541 134.5h1M589 92.5h1M558 63.5h1M609 101.5h1M537 93.5h1M572 111.5h1M542 63.5h1M564 119.5h1M541 114.5h1M591 142.5h1M547 125.5h1M618 88.5h1M604 76.5h1M578 113.5h1M624 98.5h1M623 142.5h1M565 78.5h1M563 103.5h1M600 142.5h1M587 61.5h1M569 121.5h1M626 62.5h1M587 109.5h1M617 93.5h1M612 86.5h1M607 118.5h1M574 67.5h1M582 114.5h1M583 115.5h1M630 81.5h1M590 145.5h1M560 142.5h1M570 130.5h1M554 120.5h1M610 148.5h1M620 128.5h1M591 144.5h1M567 80.5h1M610 107.5h1M605 98.5h1M582 55.5h1M605 97.5h1M566 128.5h1M588 148.5h1M569 122.5h1M542 110.5h1M563 108.5h1M564 131.5h1M603 120.5h1M588 56.5h1M621 143.5h1M578 133.5h1M543 134.5h1M589 110.5h1M554 80.5h1M601 120.5h1M586 84.5h1M590 64.5h1M582 146.5h1M541 56.5h1M545 58.5h1M625 57.5h1M596 72.5h1M569 55.5h1M624 58.5h1M619 127.5h1M600 146.5h1M562 89.5h1M537 54.5h1M537 85.5h1M556 113.5h1M595 133.5h1M593 137.5h1M633 58.5h1M557 55.5h1M549 67.5h1M608 127.5h1M546 70.5h1M574 115.5h1M561 84.5h1M550 115.5h1M556 82.5h1M577 80.5h1M613 112.5h1M549 131.5h1M545 68.5h1M618 131.5h1M587 73.5h1M588 110.5h1M559 140.5h1M582 89.5h1M541 91.5h1M556 140.5h1M584 87.5h1M594 141.5h1M607 138.5h1M627 104.5h1M540 100.5h1M587 117.5h1M629 145.5h1M591 61.5h1M558 75.5h1M577 120.5h1M595 124.5h1M615 149.5h1M632 98.5h1M603 63.5h1M544 63.5h1M587 80.5h1M537 146.5h1M588 64.5h1M625 142.5h1M588 59.5h1M562 133.5h1M556 100.5h1M628 102.5h1M561 137.5h1M602 139.5h1M589 103.5h1M602 107.5h1M587 70.5h1M608 112.5h1M541 116.5h1M579 94.5h1M538 70.5h1M632 86.5h1M586 71.5h1M579 105.5h1M554 108.5h1M564 144.5h1M537 100.5h1M597 65.5h1M558 66.5h1M555 104.5h1M594 98.5h1M604 139.5h1M597 126.5h1M590 104.5h1M628 67.5h1M550 78.5h1M582 99.5h1M570 109.5h1M587 125.5h1M595 117.5h1M574 90.5h1M569 89.5h1M626 93.5h1M559 113.5h1M564 65.5h1M570 117.5h1M562 72.5h1M599 118.5h1M609 111.5h1M610 80.5h1M544 136.5h1M617 127.5h1M621 87.5h1M571 124.5h1M590 85.5h1M543 108.5h1M583 89.5h1M607 130.5h1M571 79.5h1M594 132.5h1M553 82.5h1M597 63.5h1M550 75.5h1M629 68.5h1M555 102.5h1M545 113.5h1M632 137.5h1M565 83.5h1M629 123.5h1M600 59.5h1M599 145.5h1M571 55.5h1M589 117.5h1M549 138.5h1M598 76.5h1M578 109.5h1M590 125.5h1M539 139.5h1M609 149.5h1M631 124.5h1M576 101.5h1M547 140.5h1M568 95.5h1M567 108.5h1M627 115.5h1M597 87.5h1M614 82.5h1M604 100.5h1M612 118.5h1M548 65.5h1M548 145.5h1M551 116.5h1M592 143.5h1M592 56.5h1M580 137.5h1M613 116.5h1M624 65.5h1M617 69.5h1M543 99.5h1M563 145.5h1M572 125.5h1M585 115.5h1M612 136.5h1M575 97.5h1M588 70.5h1M554 119.5h1M541 101.5h1M629 125.5h1M596 102.5h1M619 132.5h1M630 69.5h1M549 142.5h1M543 105.5h1M573 83.5h1M578 67.5h1M547 98.5h1M623 135.5h1M577 102.5h1M608 125.5h1M592 105.5h1M594 138.5h1M616 79.5h1M546 141.5h1M606 83.5h1M585 80.5h1M621 100.5h1M600 79.5h1M554 106.5h1M632 78.5h1M615 105.5h1M605 99.5h1M577 139.5h1M568 89.5h1M564 83.5h1M567 82.5h1M608 131.5h1M626 114.5h1M622 147.5h1M555 73.5h1M560 128.5h1M565 84.5h1M617 115.5h1M622 55.5h1M597 79.5h1M591 117.5h1M553 99.5h1M552 94.5h1M570 76.5h1M540 129.5h1" stroke="#f7d8c8" stroke-width="1" fill="none" shape-rendering="crispEdges"/><path d="M545 86.5h1M619 115.5h1M603 127.5h1M571 120.5h1M612 70.5h1M620 59.5h1M604 149.5h1M572 88.5h1M552 85.5h1M551 69.5h1M570 81.5h1M600 63.5h1M559 62.5h1M587 57.5h1" stroke="#6a4a60" stroke-width="1" fill="none" shape-rendering="crispEdges"/>
<rect x="536.0" y="53.3" width="98.4" height="97.9" fill="none" stroke="#4a1c18" stroke-width="1"/>
<rect x="159.0" y="352.3" width="98.6" height="96.6" fill="#ffffff"/>
<path d="M210 373.5h1M188 367.5h1M226 399.5h1M201 436.5h1M188 399.5h1M201 362.5h1M205 368.5h1M194 413.5h1M167 447.5h1M163 437.5h1M253 359.5h1M206 384.5h1M239 360.5h1M224 355.5h1M218 398.5h1M239 419.5h1M196 409.5h1M200 423.5h1M174 405.5h1M202 403.5h1M230 390.5h1M164 428.5h1M167 444.5h1M210 396.5h1M173 387.5h1M170 414.5h1M255 430.5h1M172 424.5h1M195 415.5h1M209 363.5h1M198 404.5h1M178 403.5h1M222 401.5h1M242 439.5h1M219 400.5h1M184 413.5h1M228 399.5h1M181 361.5h1M220 366.5h1M230 404.5h1M196 416.5h1M243 393.5h1M204 377.5h1M161 430.5h1M160 365.5h1M227 373.5h1M166 445.5h1M193 377.5h1M173 432.5h1M201 361.5h1M216 401.5h1M237 403.5h1M243 402.5h1M171 446.5h1M164 421.5h1M241 357.5h1M249 385.5h1M179 385.5h1M234 438.5h1M170 377.5h1M224 423.5h1M252 421.5h1M176 385.5h1M167 355.5h1M256 354.5h1M192 380.5h1M206 412.5h1M244 418.5h1M239 439.5h1M241 441.5h1M235 432.5h1M218 436.5h1M251 392.5h1M170 439.5h1M245 427.5h1M209 390.5h1M202 426.5h1M188 366.5h1M162 358.5h1M169 373.5h1M169 382.5h1M170 368.5h1M235 389.5h1M246 419.5h1M245 394.5h1M225 431.5h1M213 365.5h1M249 398.5h1M171 403.5h1M203 425.5h1M237 437.5h1M167 435.5h1M204 405.5h1M239 426.5h1M243 356.5h1M232 404.5h1M166 426.5h1M252 444.5h1M208 402.5h1M194 373.5h1M231 422.5h1M237 427.5h1M208 423.5h1M185 439.5h1M160 410.5h1M212 366.5h1M231 392.5h1M245 375.5h1M192 427.5h1M190 363.5h1M209 437.5h1M161 413.5h1M174 403.5h1M168 424.5h1M194 382.5h1M161 432.5h1M223 435.5h1M190 439.5h1M253 413.5h1M210 354.5h1M198 365.5h1M214 445.5h1M185 441.5h1M176 366.5h1M219 435.5h1M176 396.5h1M255 437.5h1M164 388.5h1M226 430.5h1M161 435.5h1M228 357.5h1M208 387.5h1M255 407.5h1M249 392.5h1M168 391.5h1M177 412.5h1M254 384.5h1M211 396.5h1M196 418.5h1M244 401.5h1M205 397.5h1M218 433.5h1M203 365.5h1M182 430.5h1M245 363.5h1M201 369.5h1M212 385.5h1M214 384.5h1M229 436.5h1M204 361.5h1M246 372.5h1M167 423.5h1M169 401.5h1M201 358.5h1M227 432.5h1M197 409.5h1M253 375.5h1M248 358.5h1M212 377.5h1M177 403.5h1M238 444.5h1M225 393.5h1M254 443.5h1M165 428.5h1M241 369.5h1M178 396.5h1M238 355.5h1M243 439.5h1M196 363.5h1M255 357.5h1M205 363.5h1M205 433.5h1M168 443.5h1M224 391.5h1M241 358.5h1M175 396.5h1M198 386.5h1M185 418.5h1M212 353.5h1M246 432.5h1M167 366.5h1M178 392.5h1M164 382.5h1M208 356.5h1M202 435.5h1M255 445.5h1M206 374.5h1M178 446.5h1M238 419.5h1M175 426.5h1M170 447.5h1M248 396.5h1M218 439.5h1M231 372.5h1M160 372.5h1M185 370.5h1M180 396.5h1M200 357.5h1M210 409.5h1M188 370.5h1M199 443.5h1M246 406.5h1M231 382.5h1M214 434.5h1M183 427.5h1M200 401.5h1M234 445.5h1M250 388.5h1M225 394.5h1M195 372.5h1M249 366.5h1M165 359.5h1M171 355.5h1M183 382.5h1M199 432.5h1M196 399.5h1M255 424.5h1M167 437.5h1M175 373.5h1M252 430.5h1M238 385.5h1M246 391.5h1M233 406.5h1M192 369.5h1M255 436.5h1M206 446.5h1M196 412.5h1M252 381.5h1M172 354.5h1M188 393.5h1M247 428.5h1M161 364.5h1M241 389.5h1M182 444.5h1M173 443.5h1M217 392.5h1M241 433.5h1M209 410.5h1M211 360.5h1M176 425.5h1M173 426.5h1M241 367.5h1M216 391.5h1M248 428.5h1M232 428.5h1M203 382.5h1M204 437.5h1M177 443.5h1M198 421.5h1M199 410.5h1M203 359.5h1M172 356.5h1M181 428.5h1M163 387.5h1M242 435.5h1M178 358.5h1M163 396.5h1M236 354.5h1M228 433.5h1M161 406.5h1M170 418.5h1M200 437.5h1M205 366.5h1M191 354.5h1M209 428.5h1M160 445.5h1M205 441.5h1M215 391.5h1M233 421.5h1M166 392.5h1M187 447.5h1M194 444.5h1M228 372.5h1M199 441.5h1M210 357.5h1M165 437.5h1M175 368.5h1M166 408.5h1M241 438.5h1M204 356.5h1M240 355.5h1M229 390.5h1M196 366.5h1M176 430.5h1M216 395.5h1M246 364.5h1M192 409.5h1M173 374.5h1M172 406.5h1M210 440.5h1M232 363.5h1M200 371.5h1M229 408.5h1M239 394.5h1M191 376.5h1M237 426.5h1M178 402.5h1M182 364.5h1M245 354.5h1M249 399.5h1M215 357.5h1M243 363.5h1M174 390.5h1M204 424.5h1M162 383.5h1M236 411.5h1M252 390.5h1M203 439.5h1M251 409.5h1M250 381.5h1M166 380.5h1M220 436.5h1M162 370.5h1M248 439.5h1M201 420.5h1M198 361.5h1M199 417.5h1M187 360.5h1M162 373.5h1M196 447.5h1M206 356.5h1M214 441.5h1M183 369.5h1M160 431.5h1M242 400.5h1M252 370.5h1M173 427.5h1M188 356.5h1M246 371.5h1M249 368.5h1M185 372.5h1M202 386.5h1M166 366.5h1M239 446.5h1M194 433.5h1M224 421.5h1M221 429.5h1M172 415.5h1M212 445.5h1M190 378.5h1M219 373.5h1M234 386.5h1M175 424.5h1M184 366.5h1M220 443.5h1M228 442.5h1M219 426.5h1M173 425.5h1M246 370.5h1M165 409.5h1M236 426.5h1M206 426.5h1M251 420.5h1M193 379.5h1M163 385.5h1M194 419.5h1M208 425.5h1M181 415.5h1M244 430.5h1M239 392.5h1M171 393.5h1M237 368.5h1M245 396.5h1M243 406.5h1M250 433.5h1M224 385.5h1M163 410.5h1M249 372.5h1M205 435.5h1M165 431.5h1M173 391.5h1M232 390.5h1M170 432.5h1M179 363.5h1M206 419.5h1M160 379.5h1M247 383.5h1M220 361.5h1M232 367.5h1M208 354.5h1M231 439.5h1M251 417.5h1M165 394.5h1M204 428.5h1M256 414.5h1M202 442.5h1M185 360.5h1M221 377.5h1M204 394.5h1M164 354.5h1M204 410.5h1M190 398.5h1M169 439.5h1M211 371.5h1M212 395.5h1M181 375.5h1M204 411.5h1M186 435.5h1M236 413.5h1M182 391.5h1M221 405.5h1M170 410.5h1M184 406.5h1M225 404.5h1M183 442.5h1M171 357.5h1M169 419.5h1M162 432.5h1M211 425.5h1M170 374.5h1M224 402.5h1M247 360.5h1M203 445.5h1M184 362.5h1M224 374.5h1M223 381.5h1M225 369.5h1M216 441.5h1M177 392.5h1M233 437.5h1M181 427.5h1M178 398.5h1M182 433.5h1M230 416.5h1M169 367.5h1M198 435.5h1M254 441.5h1M168 445.5h1M241 442.5h1M160 423.5h1M188 438.5h1M171 401.5h1M240 369.5h1M175 431.5h1M213 386.5h1M234 402.5h1M166 364.5h1M190 360.5h1M240 441.5h1M223 421.5h1M182 437.5h1M205 444.5h1M234 370.5h1M207 418.5h1M204 438.5h1M240 363.5h1M235 404.5h1M240 447.5h1M191 445.5h1M199 414.5h1M175 441.5h1M161 389.5h1M229 445.5h1M167 428.5h1M220 429.5h1M182 396.5h1M232 409.5h1M227 388.5h1M183 353.5h1M229 363.5h1M250 396.5h1M210 381.5h1M212 423.5h1M165 378.5h1M224 418.5h1M252 434.5h1M225 418.5h1M253 392.5h1M209 361.5h1M227 392.5h1M221 423.5h1M186 416.5h1M171 440.5h1M217 442.5h1M227 384.5h1M240 432.5h1M171 394.5h1M214 357.5h1M240 397.5h1M196 388.5h1M241 363.5h1M222 366.5h1M247 404.5h1M190 376.5h1M223 405.5h1M217 401.5h1M214 422.5h1M176 390.5h1M161 404.5h1M238 377.5h1M243 443.5h1M228 374.5h1M242 421.5h1M199 435.5h1M205 392.5h1M163 367.5h1M197 380.5h1M238 440.5h1M229 374.5h1M172 362.5h1M190 362.5h1M205 365.5h1M227 412.5h1M246 420.5h1M188 377.5h1M243 391.5h1M227 360.5h1M197 439.5h1M182 435.5h1M198 391.5h1M253 366.5h1M173 430.5h1M183 444.5h1M254 363.5h1M233 407.5h1M163 416.5h1M245 367.5h1M204 413.5h1M232 373.5h1M196 394.5h1M239 427.5h1M185 410.5h1M193 361.5h1M223 428.5h1M167 391.5h1M244 409.5h1M164 409.5h1M234 381.5h1M234 392.5h1M210 420.5h1M210 437.5h1M196 411.5h1M178 408.5h1M229 440.5h1M253 354.5h1M171 439.5h1M232 395.5h1M160 438.5h1M223 374.5h1M222 447.5h1M205 361.5h1M240 359.5h1M169 403.5h1M164 413.5h1M249 433.5h1M201 381.5h1M208 401.5h1M238 370.5h1M201 394.5h1M252 410.5h1M184 447.5h1M184 383.5h1M179 402.5h1M226 441.5h1M254 437.5h1M199 436.5h1M174 377.5h1M199 354.5h1M206 414.5h1M206 403.5h1M161 387.5h1M165 379.5h1M208 437.5h1M220 433.5h1M174 389.5h1M230 423.5h1M242 432.5h1M236 385.5h1M195 357.5h1M220 360.5h1M255 435.5h1M163 422.5h1M175 395.5h1M195 367.5h1M191 422.5h1M188 398.5h1M214 425.5h1M191 375.5h1M182 359.5h1M255 420.5h1M184 430.5h1M197 356.5h1M193 418.5h1M168 421.5h1M221 355.5h1M178 361.5h1M177 411.5h1M196 407.5h1M160 371.5h1M217 364.5h1M169 413.5h1M238 354.5h1M175 408.5h1M252 438.5h1M234 439.5h1M164 442.5h1M245 408.5h1M244 364.5h1M234 366.5h1M221 424.5h1M180 429.5h1M215 397.5h1M216 365.5h1M198 367.5h1M250 442.5h1M238 383.5h1M192 358.5h1M180 417.5h1M211 375.5h1M228 413.5h1M240 426.5h1M191 362.5h1M186 362.5h1M186 359.5h1M194 405.5h1M193 375.5h1M198 375.5h1M196 391.5h1M196 387.5h1M199 401.5h1M198 401.5h1M184 360.5h1M195 384.5h1M199 403.5h1M183 362.5h1M193 380.5h1M198 382.5h1M198 372.5h1M204 407.5h1M197 388.5h1M200 383.5h1M186 354.5h1M196 385.5h1M189 363.5h1M199 368.5h1M203 398.5h1M203 394.5h1M195 386.5h1M179 355.5h1M196 395.5h1M207 403.5h1M185 355.5h1M194 364.5h1M200 397.5h1M184 361.5h1M201 396.5h1M202 393.5h1M198 377.5h1M203 403.5h1M203 407.5h1M193 391.5h1M199 400.5h1M198 379.5h1M189 370.5h1M194 388.5h1M200 400.5h1M200 390.5h1M201 404.5h1M197 397.5h1M195 373.5h1M189 354.5h1M198 392.5h1M204 399.5h1M185 361.5h1M203 397.5h1M197 377.5h1M199 370.5h1M201 402.5h1M194 370.5h1M191 366.5h1M205 405.5h1M198 362.5h1M195 364.5h1M202 372.5h1M195 388.5h1M202 391.5h1M183 357.5h1M196 383.5h1M199 390.5h1M195 365.5h1M196 367.5h1M183 359.5h1M195 405.5h1M189 367.5h1M192 394.5h1M201 398.5h1M191 382.5h1M195 368.5h1M202 402.5h1M200 399.5h1M189 356.5h1M196 397.5h1M191 369.5h1M185 359.5h1M199 412.5h1M200 418.5h1M208 429.5h1M198 414.5h1M200 412.5h1M203 413.5h1M203 411.5h1M208 427.5h1M209 424.5h1M198 417.5h1M202 417.5h1M205 422.5h1M201 415.5h1M204 423.5h1M207 422.5h1M202 420.5h1M200 416.5h1M199 415.5h1M206 420.5h1M199 413.5h1M202 418.5h1M197 408.5h1M207 429.5h1M202 422.5h1M211 429.5h1M205 419.5h1M199 418.5h1M196 410.5h1M201 411.5h1M209 425.5h1M202 419.5h1M206 422.5h1M205 417.5h1M203 409.5h1M210 427.5h1M205 420.5h1M211 428.5h1M210 424.5h1M207 423.5h1M210 421.5h1M195 407.5h1M198 413.5h1M205 425.5h1M201 414.5h1M205 426.5h1M200 410.5h1M203 420.5h1M209 429.5h1M213 425.5h1M192 414.5h1M209 426.5h1M197 414.5h1M209 417.5h1M213 419.5h1M200 420.5h1M206 423.5h1M208 424.5h1M196 414.5h1M208 428.5h1M204 414.5h1M198 418.5h1M208 417.5h1M170 406.5h1M179 415.5h1M172 413.5h1M178 415.5h1M184 419.5h1M189 428.5h1M185 424.5h1M164 406.5h1M171 418.5h1M176 413.5h1M172 404.5h1M173 415.5h1M169 410.5h1M173 417.5h1M176 409.5h1M165 408.5h1M190 416.5h1M165 405.5h1M175 411.5h1M184 418.5h1M190 421.5h1M189 424.5h1M169 409.5h1M177 414.5h1M182 419.5h1M167 405.5h1M168 415.5h1M183 423.5h1M190 423.5h1M167 408.5h1M186 430.5h1M169 412.5h1M176 412.5h1M184 417.5h1M175 410.5h1M188 423.5h1M177 416.5h1M182 412.5h1M187 419.5h1M185 423.5h1M177 422.5h1M182 428.5h1M164 404.5h1M182 411.5h1M166 410.5h1M177 413.5h1M185 413.5h1M163 404.5h1M173 416.5h1M165 403.5h1M176 418.5h1M171 410.5h1M172 417.5h1M162 401.5h1M176 406.5h1M178 412.5h1M181 426.5h1M191 428.5h1M168 406.5h1M169 402.5h1M167 401.5h1M178 419.5h1M231 431.5h1M233 433.5h1M233 436.5h1M232 436.5h1M230 430.5h1M231 432.5h1M230 434.5h1M228 430.5h1M239 438.5h1M236 438.5h1M239 443.5h1M234 440.5h1M236 437.5h1M231 435.5h1M239 437.5h1M232 430.5h1M232 435.5h1M235 434.5h1M228 424.5h1M230 428.5h1M229 431.5h1M238 441.5h1M232 438.5h1M234 436.5h1M231 437.5h1M230 433.5h1M235 436.5h1M239 434.5h1M229 434.5h1M228 428.5h1M235 433.5h1M230 431.5h1M236 435.5h1M236 431.5h1M225 429.5h1M232 433.5h1M236 441.5h1M232 437.5h1M235 435.5h1M227 429.5h1M230 426.5h1M231 433.5h1M227 426.5h1M235 442.5h1M236 439.5h1M230 429.5h1M238 432.5h1M233 442.5h1M233 438.5h1M236 436.5h1M227 430.5h1M226 429.5h1M226 427.5h1M227 406.5h1M226 407.5h1M227 413.5h1M221 403.5h1M225 407.5h1M226 410.5h1M220 413.5h1M226 403.5h1M225 403.5h1M220 406.5h1M226 409.5h1M224 411.5h1M219 407.5h1M227 411.5h1M222 402.5h1M226 401.5h1M227 414.5h1M224 406.5h1M218 403.5h1M223 408.5h1M228 415.5h1M224 408.5h1M219 406.5h1M228 405.5h1M226 414.5h1M221 411.5h1M231 407.5h1M225 406.5h1M221 404.5h1M218 412.5h1M230 408.5h1M230 409.5h1M226 412.5h1M221 412.5h1M162 443.5h1M163 440.5h1M164 443.5h1M162 440.5h1M165 443.5h1M164 445.5h1M165 444.5h1M166 441.5h1M163 439.5h1M162 444.5h1M161 440.5h1M169 443.5h1M166 447.5h1M165 447.5h1M163 442.5h1M161 445.5h1M161 442.5h1M160 446.5h1M168 440.5h1M160 444.5h1M176 381.5h1M171 369.5h1M182 370.5h1M175 374.5h1M168 373.5h1M174 383.5h1M176 374.5h1M171 366.5h1M169 369.5h1M175 375.5h1M168 371.5h1M167 376.5h1M172 359.5h1M164 367.5h1M168 369.5h1M182 369.5h1M163 364.5h1M173 364.5h1M178 379.5h1M163 358.5h1M179 370.5h1M174 376.5h1M160 363.5h1M171 376.5h1M172 367.5h1M185 384.5h1M184 380.5h1M178 386.5h1M176 371.5h1M171 372.5h1M178 374.5h1M176 369.5h1M173 376.5h1M171 367.5h1M247 371.5h1M253 383.5h1M248 377.5h1M244 356.5h1M243 365.5h1M249 383.5h1M245 381.5h1M246 369.5h1M240 372.5h1M247 390.5h1M247 370.5h1M239 356.5h1M245 386.5h1M247 377.5h1M237 367.5h1M253 380.5h1M252 375.5h1M245 379.5h1M249 379.5h1M244 376.5h1M242 359.5h1M244 375.5h1M247 385.5h1M249 363.5h1M244 374.5h1M246 378.5h1M246 384.5h1M248 385.5h1M235 359.5h1M245 368.5h1M250 385.5h1M244 381.5h1M253 384.5h1M251 389.5h1M215 384.5h1M220 397.5h1M215 385.5h1M216 399.5h1M220 388.5h1M217 388.5h1M215 394.5h1M224 395.5h1M215 389.5h1M212 397.5h1M214 390.5h1M214 387.5h1M211 388.5h1M212 387.5h1M221 393.5h1M217 396.5h1M226 395.5h1M227 398.5h1M216 390.5h1M217 391.5h1" stroke="#c4521a" stroke-width="1" fill="none" shape-rendering="crispEdges"/><path d="M201 409.5h1M236 388.5h1M199 386.5h1M178 387.5h1M191 444.5h1M201 357.5h1M238 406.5h1M222 430.5h1M175 418.5h1M208 392.5h1M210 383.5h1M241 396.5h1M229 378.5h1M255 359.5h1M233 380.5h1M179 369.5h1M184 355.5h1M217 415.5h1M162 374.5h1M254 358.5h1M201 407.5h1M194 377.5h1M237 397.5h1M223 370.5h1M204 400.5h1M189 398.5h1M188 391.5h1M189 413.5h1M223 389.5h1M194 363.5h1M216 388.5h1M226 375.5h1M222 379.5h1M169 374.5h1M179 388.5h1M192 408.5h1M246 438.5h1M216 446.5h1M166 395.5h1M189 365.5h1M239 365.5h1M198 426.5h1M188 417.5h1M172 395.5h1M200 406.5h1M199 376.5h1M191 364.5h1M244 429.5h1M170 438.5h1M248 356.5h1M170 361.5h1M235 428.5h1M247 387.5h1M202 376.5h1M217 427.5h1M195 363.5h1M230 413.5h1M206 379.5h1M210 446.5h1M164 357.5h1M217 426.5h1M222 444.5h1M187 438.5h1M212 357.5h1M171 445.5h1M185 430.5h1M194 442.5h1M190 356.5h1M218 367.5h1M223 362.5h1M231 356.5h1M184 429.5h1M184 364.5h1M205 398.5h1M189 419.5h1M200 364.5h1M185 378.5h1M163 384.5h1M218 387.5h1M186 381.5h1M186 417.5h1M228 419.5h1M241 425.5h1M248 407.5h1M185 386.5h1M168 385.5h1M235 358.5h1M212 401.5h1M190 446.5h1M161 372.5h1M173 445.5h1M243 437.5h1M160 361.5h1M160 386.5h1M218 355.5h1M236 433.5h1M232 366.5h1M248 353.5h1M231 398.5h1M175 390.5h1M251 363.5h1M186 406.5h1M164 441.5h1M251 416.5h1M199 363.5h1M182 420.5h1M171 400.5h1M191 443.5h1M251 402.5h1M203 434.5h1M225 391.5h1M169 438.5h1M193 435.5h1M209 420.5h1M249 377.5h1M232 418.5h1M173 380.5h1M219 355.5h1M216 417.5h1M253 391.5h1M238 392.5h1M181 425.5h1M239 395.5h1M256 430.5h1M179 406.5h1M253 382.5h1M188 361.5h1M252 416.5h1M249 384.5h1M217 370.5h1M254 364.5h1M188 368.5h1M165 407.5h1M216 358.5h1M207 417.5h1M229 357.5h1M176 420.5h1M202 416.5h1M221 406.5h1M185 426.5h1M197 363.5h1M203 417.5h1M236 359.5h1M252 432.5h1M233 439.5h1M187 424.5h1M191 407.5h1M199 371.5h1M227 402.5h1M235 378.5h1M163 356.5h1M208 372.5h1M256 377.5h1M248 369.5h1M217 357.5h1M234 431.5h1M167 442.5h1M231 360.5h1M219 398.5h1M207 447.5h1M241 392.5h1M170 399.5h1M223 365.5h1M170 416.5h1M206 358.5h1M249 357.5h1M178 389.5h1M255 409.5h1M237 399.5h1M246 425.5h1M217 384.5h1M203 381.5h1M211 379.5h1M253 368.5h1M252 372.5h1M205 382.5h1M234 363.5h1M207 367.5h1M254 417.5h1M253 370.5h1M232 358.5h1M217 436.5h1M197 357.5h1M225 400.5h1M252 428.5h1M251 387.5h1M173 396.5h1M255 382.5h1M246 355.5h1M172 437.5h1M175 417.5h1M239 405.5h1M226 376.5h1M178 363.5h1M196 427.5h1M251 357.5h1M232 431.5h1M222 407.5h1M229 422.5h1M166 360.5h1M182 358.5h1M200 368.5h1M196 376.5h1M192 365.5h1M200 391.5h1M196 374.5h1M196 375.5h1M194 366.5h1M194 361.5h1M199 381.5h1M202 397.5h1M194 367.5h1M183 356.5h1M187 368.5h1M184 359.5h1M189 369.5h1M192 377.5h1M190 354.5h1M189 371.5h1M194 391.5h1M191 363.5h1M198 381.5h1M196 377.5h1M193 386.5h1M185 356.5h1M194 393.5h1M192 416.5h1M205 421.5h1M208 420.5h1M203 418.5h1M201 418.5h1M198 407.5h1M204 427.5h1M203 419.5h1M204 420.5h1M197 407.5h1M199 411.5h1M199 419.5h1M197 413.5h1M205 415.5h1M212 427.5h1M210 428.5h1M214 426.5h1M198 416.5h1M199 416.5h1M207 424.5h1M173 414.5h1M168 410.5h1M184 421.5h1M174 415.5h1M180 414.5h1M184 423.5h1M171 405.5h1M172 405.5h1M174 420.5h1M191 421.5h1M169 404.5h1M179 418.5h1M181 419.5h1M181 422.5h1M182 421.5h1M186 420.5h1M188 425.5h1M179 413.5h1M186 422.5h1M188 427.5h1M173 413.5h1M174 411.5h1M185 417.5h1M167 402.5h1M178 414.5h1M177 419.5h1M184 425.5h1M236 443.5h1M240 439.5h1M235 439.5h1M234 442.5h1M232 439.5h1M235 438.5h1M230 435.5h1M226 426.5h1M234 432.5h1M226 432.5h1M229 432.5h1M237 442.5h1M231 428.5h1M237 435.5h1M220 426.5h1M233 435.5h1M235 441.5h1M228 426.5h1M230 432.5h1M222 427.5h1M223 412.5h1M217 407.5h1M224 407.5h1M228 412.5h1M221 400.5h1M218 407.5h1M222 403.5h1M216 407.5h1M224 409.5h1M232 408.5h1M223 415.5h1M223 406.5h1M169 444.5h1M160 441.5h1M164 444.5h1M169 447.5h1M166 442.5h1M163 444.5h1M171 442.5h1M171 373.5h1M178 384.5h1M175 380.5h1M177 382.5h1M175 379.5h1M177 369.5h1M175 370.5h1M175 363.5h1M176 392.5h1M170 365.5h1M174 371.5h1M178 368.5h1M248 389.5h1M241 383.5h1M240 367.5h1M238 362.5h1M248 380.5h1M238 368.5h1M255 388.5h1M237 358.5h1M242 364.5h1M243 381.5h1M242 361.5h1M213 387.5h1M220 401.5h1M217 387.5h1M212 388.5h1M217 390.5h1M213 392.5h1M221 390.5h1" stroke="#b8481a" stroke-width="1" fill="none" shape-rendering="crispEdges"/><path d="M218 358.5h1M170 424.5h1M222 440.5h1M252 400.5h1M241 354.5h1M203 422.5h1M249 446.5h1M254 415.5h1M218 399.5h1M192 443.5h1M247 373.5h1M242 385.5h1M197 419.5h1M182 415.5h1M182 416.5h1M179 389.5h1M190 385.5h1M172 376.5h1M181 353.5h1M167 394.5h1M252 422.5h1M248 387.5h1M250 410.5h1M213 393.5h1M252 395.5h1M190 395.5h1M246 426.5h1M199 355.5h1M220 354.5h1M232 440.5h1M243 382.5h1M206 353.5h1M177 358.5h1M166 359.5h1M181 357.5h1M240 395.5h1M251 380.5h1M191 441.5h1M207 420.5h1M180 388.5h1M219 431.5h1M203 404.5h1M220 400.5h1M247 363.5h1M226 384.5h1M238 382.5h1M179 356.5h1M201 377.5h1M184 353.5h1M219 358.5h1M256 360.5h1M256 384.5h1M188 382.5h1M163 397.5h1M174 382.5h1M193 366.5h1M183 365.5h1M184 424.5h1M196 371.5h1M240 420.5h1M207 393.5h1M171 375.5h1M172 382.5h1M212 436.5h1M208 363.5h1M192 367.5h1M249 408.5h1M219 442.5h1M214 377.5h1M224 415.5h1M185 396.5h1M249 369.5h1M245 420.5h1M221 365.5h1M228 380.5h1M163 435.5h1M163 446.5h1M217 446.5h1M203 358.5h1M191 434.5h1M255 389.5h1M193 403.5h1M190 370.5h1M225 446.5h1M172 378.5h1M240 371.5h1M229 400.5h1M186 378.5h1M219 432.5h1M180 386.5h1M181 371.5h1M245 428.5h1M176 357.5h1M241 356.5h1M248 397.5h1M253 438.5h1M168 407.5h1M240 404.5h1M177 429.5h1M170 363.5h1M203 369.5h1M195 419.5h1M171 374.5h1M202 362.5h1M196 386.5h1M174 367.5h1M228 403.5h1M173 400.5h1M245 390.5h1M247 396.5h1M170 430.5h1M241 385.5h1M162 353.5h1M190 404.5h1M166 353.5h1M251 393.5h1M228 435.5h1M188 445.5h1M227 447.5h1M169 436.5h1M213 439.5h1M209 434.5h1M253 440.5h1M168 383.5h1M205 447.5h1M200 443.5h1M170 375.5h1M247 407.5h1M167 358.5h1M185 376.5h1M255 355.5h1M246 380.5h1M254 380.5h1M191 394.5h1M207 394.5h1M218 357.5h1M225 426.5h1M232 376.5h1M223 387.5h1M253 364.5h1M168 365.5h1M163 363.5h1M243 397.5h1M207 411.5h1M249 360.5h1M231 446.5h1M217 445.5h1M240 438.5h1M189 420.5h1M239 371.5h1M248 430.5h1M190 377.5h1M209 419.5h1M221 407.5h1M209 389.5h1M223 366.5h1M181 388.5h1M220 374.5h1M218 438.5h1M214 353.5h1M210 388.5h1M165 364.5h1M198 438.5h1M194 380.5h1M197 410.5h1M236 403.5h1M188 392.5h1M232 357.5h1M206 431.5h1M244 406.5h1M237 379.5h1M165 422.5h1M193 392.5h1M206 388.5h1M168 382.5h1M184 443.5h1M244 368.5h1M210 375.5h1M171 417.5h1M244 378.5h1M200 421.5h1M176 386.5h1M182 426.5h1M193 357.5h1M197 404.5h1M237 392.5h1M179 428.5h1M160 373.5h1M169 364.5h1M254 377.5h1M219 394.5h1M200 375.5h1M201 359.5h1M214 432.5h1M176 380.5h1M226 434.5h1M203 416.5h1M183 360.5h1M200 394.5h1M193 405.5h1M211 400.5h1M183 405.5h1M173 399.5h1M225 389.5h1M185 363.5h1M163 392.5h1M244 439.5h1M180 441.5h1M212 364.5h1M251 434.5h1M201 366.5h1M171 360.5h1M251 426.5h1M213 381.5h1M223 423.5h1M189 394.5h1M170 404.5h1M212 435.5h1M212 379.5h1M234 413.5h1M188 439.5h1M215 355.5h1M244 433.5h1M172 431.5h1M205 427.5h1M245 371.5h1M161 407.5h1M252 396.5h1M163 423.5h1M168 393.5h1M175 401.5h1M171 412.5h1M247 382.5h1M231 414.5h1M232 364.5h1M193 404.5h1M163 403.5h1M162 441.5h1M255 372.5h1M221 382.5h1M163 379.5h1M218 396.5h1M188 413.5h1M242 433.5h1M173 366.5h1M178 443.5h1M241 434.5h1M197 436.5h1M230 378.5h1M233 410.5h1M245 416.5h1M189 364.5h1M220 367.5h1M222 365.5h1M163 408.5h1M206 434.5h1M243 420.5h1M250 387.5h1M212 421.5h1M255 362.5h1M199 383.5h1M162 357.5h1M251 442.5h1M199 382.5h1M251 375.5h1M205 369.5h1M216 392.5h1M248 438.5h1M241 428.5h1M237 428.5h1M196 425.5h1M165 385.5h1M176 400.5h1M229 380.5h1M248 401.5h1M164 365.5h1M222 371.5h1M182 380.5h1M180 379.5h1M170 409.5h1M196 392.5h1M209 399.5h1M216 425.5h1M192 426.5h1M196 402.5h1M245 355.5h1M193 425.5h1M169 407.5h1M227 355.5h1M167 409.5h1M232 353.5h1M256 409.5h1M251 446.5h1M219 429.5h1M184 412.5h1M192 420.5h1M161 397.5h1M232 374.5h1M234 424.5h1M216 356.5h1M160 358.5h1M164 386.5h1M164 359.5h1M198 364.5h1M197 412.5h1M202 382.5h1M188 360.5h1M226 444.5h1M195 366.5h1M251 443.5h1M198 442.5h1M198 387.5h1M202 411.5h1M189 440.5h1M246 393.5h1M170 388.5h1M227 408.5h1M173 392.5h1M235 357.5h1M237 356.5h1M195 420.5h1M223 354.5h1M217 358.5h1M236 416.5h1M194 402.5h1M219 391.5h1M243 376.5h1M195 377.5h1M203 406.5h1M223 429.5h1M169 427.5h1M202 421.5h1M208 404.5h1M170 407.5h1M254 438.5h1M219 446.5h1M169 391.5h1M231 441.5h1M188 405.5h1M235 411.5h1M186 434.5h1M225 408.5h1M240 444.5h1M224 429.5h1M187 383.5h1M246 431.5h1M191 431.5h1M251 408.5h1M230 376.5h1M168 426.5h1M239 398.5h1M243 427.5h1M251 398.5h1M204 406.5h1M200 403.5h1M198 373.5h1M199 394.5h1M202 369.5h1M194 376.5h1M195 374.5h1M199 404.5h1M193 364.5h1M193 407.5h1M201 388.5h1M203 390.5h1M194 385.5h1M191 365.5h1M204 390.5h1M201 382.5h1M202 401.5h1M188 364.5h1M205 370.5h1M200 395.5h1M182 353.5h1M193 385.5h1M195 385.5h1M196 378.5h1M187 359.5h1M193 362.5h1M191 367.5h1M198 397.5h1M189 360.5h1M199 406.5h1M198 390.5h1M201 392.5h1M193 363.5h1M193 373.5h1M209 423.5h1M208 426.5h1M203 415.5h1M200 411.5h1M213 427.5h1M201 408.5h1M202 429.5h1M204 422.5h1M200 415.5h1M210 423.5h1M200 414.5h1M204 425.5h1M204 418.5h1M204 419.5h1M206 417.5h1M198 420.5h1M200 417.5h1M205 423.5h1M206 421.5h1M206 425.5h1M211 432.5h1M199 407.5h1M201 413.5h1M196 408.5h1M204 421.5h1M211 427.5h1M206 429.5h1M201 417.5h1M203 427.5h1M180 416.5h1M168 403.5h1M177 418.5h1M183 419.5h1M176 415.5h1M168 405.5h1M173 409.5h1M180 420.5h1M180 418.5h1M171 406.5h1M174 413.5h1M170 400.5h1M178 420.5h1M189 431.5h1M175 412.5h1M193 426.5h1M185 420.5h1M176 419.5h1M171 404.5h1M186 426.5h1M171 411.5h1M189 421.5h1M175 405.5h1M180 421.5h1M166 411.5h1M186 419.5h1M172 409.5h1M175 420.5h1M188 428.5h1M188 422.5h1M189 427.5h1M174 418.5h1M186 423.5h1M171 414.5h1M179 422.5h1M173 419.5h1M175 407.5h1M235 440.5h1M236 432.5h1M228 437.5h1M233 432.5h1M228 427.5h1M227 425.5h1M227 428.5h1M234 433.5h1M229 429.5h1M234 437.5h1M227 424.5h1M229 427.5h1M242 444.5h1M227 435.5h1M223 427.5h1M235 445.5h1M227 427.5h1M218 409.5h1M225 409.5h1M223 403.5h1M222 408.5h1M231 413.5h1M229 406.5h1M223 413.5h1M218 416.5h1M220 404.5h1M226 408.5h1M223 409.5h1M226 411.5h1M229 410.5h1M224 410.5h1M222 404.5h1M226 415.5h1M224 412.5h1M219 411.5h1M221 410.5h1M160 442.5h1M165 446.5h1M167 446.5h1M161 443.5h1M165 442.5h1M169 446.5h1M163 441.5h1M164 439.5h1M176 364.5h1M174 368.5h1M173 368.5h1M172 383.5h1M178 381.5h1M173 377.5h1M173 379.5h1M176 377.5h1M176 388.5h1M169 375.5h1M174 361.5h1M169 371.5h1M167 362.5h1M180 375.5h1M173 373.5h1M175 382.5h1M179 378.5h1M177 386.5h1M175 360.5h1M179 376.5h1M179 373.5h1M171 379.5h1M168 362.5h1M249 381.5h1M253 372.5h1M253 371.5h1M244 393.5h1M243 383.5h1M242 380.5h1M249 378.5h1M251 381.5h1M256 380.5h1M252 377.5h1M244 370.5h1M251 386.5h1M249 375.5h1M247 366.5h1M245 389.5h1M251 364.5h1M249 364.5h1M244 382.5h1M249 387.5h1M245 366.5h1M243 372.5h1M246 381.5h1M242 382.5h1M252 387.5h1M244 367.5h1M244 379.5h1M251 379.5h1M242 371.5h1M250 379.5h1M254 387.5h1M220 393.5h1M217 382.5h1M218 392.5h1M219 390.5h1M224 394.5h1M216 394.5h1M215 393.5h1M219 388.5h1M218 397.5h1M212 389.5h1M218 395.5h1M214 385.5h1M215 386.5h1M222 388.5h1" stroke="#d67a45" stroke-width="1" fill="none" shape-rendering="crispEdges"/><path d="M219 427.5h1M233 386.5h1M246 354.5h1M187 423.5h1M237 353.5h1M211 438.5h1M210 441.5h1M161 420.5h1M253 363.5h1M208 368.5h1M251 371.5h1M168 360.5h1M244 397.5h1M247 376.5h1M231 381.5h1M165 380.5h1M231 444.5h1M231 377.5h1M182 385.5h1M243 369.5h1M242 438.5h1M162 384.5h1M219 376.5h1M248 366.5h1M209 379.5h1M213 382.5h1M161 403.5h1M162 361.5h1M222 360.5h1M176 375.5h1M221 418.5h1M201 387.5h1M167 438.5h1M195 428.5h1M170 427.5h1M168 447.5h1M192 382.5h1M218 447.5h1M169 398.5h1M185 445.5h1M189 376.5h1M197 370.5h1M186 386.5h1M189 426.5h1M177 410.5h1M185 388.5h1M228 371.5h1M203 364.5h1M217 354.5h1M252 446.5h1M206 442.5h1M161 385.5h1M171 386.5h1M253 409.5h1M198 410.5h1M194 394.5h1M173 359.5h1M183 410.5h1M243 392.5h1M196 430.5h1M181 403.5h1M200 445.5h1M165 420.5h1M204 373.5h1M197 421.5h1M202 378.5h1M199 380.5h1M189 375.5h1M197 373.5h1M165 362.5h1M200 444.5h1M229 354.5h1M207 355.5h1M195 355.5h1M215 442.5h1M219 380.5h1M195 427.5h1M236 425.5h1M207 433.5h1M163 443.5h1M254 355.5h1M222 431.5h1M227 380.5h1M224 431.5h1M197 398.5h1M216 430.5h1M211 401.5h1M161 438.5h1M165 416.5h1M197 375.5h1M212 354.5h1M232 389.5h1M206 400.5h1M240 370.5h1M181 372.5h1M178 431.5h1M200 442.5h1M168 395.5h1M162 388.5h1M202 424.5h1M164 426.5h1M255 413.5h1M174 378.5h1M250 437.5h1M170 446.5h1M193 445.5h1M232 356.5h1M210 362.5h1M180 366.5h1M226 442.5h1M166 418.5h1M176 410.5h1M198 425.5h1M206 401.5h1M221 389.5h1M255 431.5h1M201 442.5h1M204 395.5h1M210 407.5h1M211 377.5h1M202 447.5h1M197 383.5h1M175 414.5h1M199 389.5h1M252 435.5h1M224 434.5h1M243 413.5h1M243 400.5h1M211 424.5h1M211 443.5h1M244 423.5h1M243 403.5h1M234 411.5h1M199 372.5h1M169 372.5h1M225 432.5h1M244 361.5h1M178 416.5h1M249 434.5h1M226 420.5h1M183 373.5h1M221 439.5h1M249 376.5h1M195 393.5h1M195 436.5h1M208 439.5h1M199 395.5h1M235 422.5h1M244 383.5h1M162 428.5h1M189 442.5h1M177 404.5h1M191 368.5h1M196 420.5h1M206 410.5h1M219 441.5h1M212 398.5h1M254 370.5h1M169 425.5h1M174 427.5h1M191 383.5h1M256 385.5h1M194 431.5h1M233 422.5h1M246 415.5h1M176 422.5h1M203 429.5h1M217 366.5h1M230 437.5h1M208 378.5h1M170 429.5h1M234 391.5h1M244 392.5h1M222 436.5h1M218 391.5h1M175 436.5h1M242 362.5h1M204 416.5h1M199 402.5h1M236 427.5h1M201 356.5h1M190 380.5h1M253 431.5h1M221 426.5h1M177 366.5h1M241 386.5h1M252 445.5h1M252 426.5h1M193 422.5h1M204 396.5h1M184 444.5h1M164 376.5h1M228 402.5h1M161 358.5h1M191 413.5h1M184 367.5h1M229 435.5h1M201 353.5h1M225 374.5h1M174 393.5h1M230 402.5h1M187 378.5h1M220 392.5h1M235 413.5h1M184 354.5h1M198 385.5h1M175 409.5h1M187 385.5h1M247 425.5h1M188 365.5h1M220 363.5h1M228 362.5h1M242 441.5h1M166 378.5h1M190 367.5h1M224 382.5h1M185 394.5h1M196 413.5h1M208 440.5h1M180 365.5h1M238 421.5h1M201 412.5h1M219 403.5h1M173 423.5h1M187 365.5h1M200 393.5h1M195 382.5h1M199 399.5h1M197 372.5h1M197 394.5h1M202 396.5h1M198 368.5h1M183 367.5h1M191 359.5h1M185 365.5h1M191 361.5h1M195 371.5h1M197 406.5h1M190 372.5h1M196 372.5h1M197 391.5h1M201 397.5h1M212 426.5h1M204 426.5h1M198 412.5h1M203 423.5h1M206 424.5h1M202 414.5h1M203 412.5h1M208 422.5h1M211 418.5h1M210 429.5h1M209 421.5h1M208 421.5h1M210 425.5h1M210 417.5h1M184 422.5h1M172 410.5h1M183 421.5h1M171 415.5h1M179 417.5h1M172 403.5h1M177 409.5h1M166 403.5h1M171 409.5h1M166 409.5h1M168 409.5h1M166 405.5h1M181 420.5h1M171 407.5h1M174 409.5h1M186 418.5h1M178 413.5h1M170 412.5h1M167 414.5h1M174 414.5h1M179 421.5h1M166 399.5h1M176 417.5h1M238 435.5h1M231 429.5h1M227 422.5h1M240 440.5h1M237 440.5h1M233 430.5h1M234 434.5h1M241 440.5h1M238 442.5h1M240 436.5h1M234 435.5h1M239 442.5h1M235 437.5h1M237 439.5h1M227 434.5h1M239 441.5h1M239 440.5h1M229 423.5h1M227 423.5h1M217 400.5h1M223 410.5h1M216 403.5h1M219 404.5h1M219 401.5h1M228 406.5h1M215 405.5h1M220 410.5h1M218 406.5h1M229 411.5h1M222 411.5h1M164 447.5h1M165 445.5h1M161 441.5h1M160 443.5h1M168 442.5h1M173 447.5h1M160 440.5h1M170 355.5h1M185 375.5h1M179 384.5h1M175 376.5h1M167 367.5h1M176 358.5h1M181 385.5h1M166 365.5h1M176 368.5h1M177 377.5h1M179 380.5h1M177 367.5h1M181 384.5h1M244 388.5h1M243 368.5h1M247 381.5h1M248 370.5h1M243 357.5h1M242 370.5h1M253 381.5h1M246 374.5h1M249 394.5h1M245 364.5h1M249 373.5h1M246 386.5h1M220 394.5h1M221 397.5h1M219 387.5h1" stroke="#ecb692" stroke-width="1" fill="none" shape-rendering="crispEdges"/>
<rect x="159.0" y="352.3" width="98.6" height="96.6" fill="none" stroke="#4a1c18" stroke-width="1"/>
<rect x="282.4" y="330.4" width="99.0" height="97.5" fill="#ffffff"/>
<path d="M297.8 333.6h1.5v1.5h-1.5zM305.8 333.2h1.5v1.5h-1.5zM288.8 338.6h1.5v1.5h-1.5zM298.7 342.6h1.5v1.5h-1.5zM294.8 349.5h1.5v1.5h-1.5zM285.8 350.8h1.5v1.5h-1.5zM286.7 358.3h1.5v1.5h-1.5zM289.3 361.9h1.5v1.5h-1.5zM295.7 362.4h1.5v1.5h-1.5zM309.6 357.0h1.5v1.5h-1.5zM319.3 356.6h1.5v1.5h-1.5zM340.3 336.8h1.5v1.5h-1.5zM332.8 343.3h1.5v1.5h-1.5zM330.6 351.6h1.5v1.5h-1.5zM351.0 341.6h1.5v1.5h-1.5zM354.0 344.3h1.5v1.5h-1.5zM343.7 345.6h1.5v1.5h-1.5zM358.3 345.6h1.5v1.5h-1.5zM349.9 349.7h1.5v1.5h-1.5zM354.0 351.0h1.5v1.5h-1.5zM344.2 352.3h1.5v1.5h-1.5zM346.3 352.7h1.5v1.5h-1.5zM341.8 354.6h1.5v1.5h-1.5zM348.4 355.1h1.5v1.5h-1.5zM364.3 339.0h1.5v1.5h-1.5zM364.3 340.5h1.5v1.5h-1.5zM371.8 339.0h1.5v1.5h-1.5zM373.1 340.9h1.5v1.5h-1.5zM367.3 345.4h1.5v1.5h-1.5zM372.2 347.1h1.5v1.5h-1.5zM364.7 358.7h1.5v1.5h-1.5zM356.6 361.5h1.5v1.5h-1.5zM352.9 363.6h1.5v1.5h-1.5zM368.6 363.2h1.5v1.5h-1.5zM358.7 365.8h1.5v1.5h-1.5zM341.8 365.8h1.5v1.5h-1.5zM344.6 369.2h1.5v1.5h-1.5zM357.4 370.5h1.5v1.5h-1.5zM362.2 369.2h1.5v1.5h-1.5zM340.9 376.1h1.5v1.5h-1.5zM364.5 376.3h1.5v1.5h-1.5zM371.4 377.4h1.5v1.5h-1.5zM377.8 375.0h1.5v1.5h-1.5zM363.2 381.9h1.5v1.5h-1.5zM370.1 382.3h1.5v1.5h-1.5zM364.3 384.0h1.5v1.5h-1.5zM373.3 384.0h1.5v1.5h-1.5zM303.6 372.6h1.5v1.5h-1.5zM306.4 374.1h1.5v1.5h-1.5zM322.7 375.4h1.5v1.5h-1.5zM323.6 379.9h1.5v1.5h-1.5zM328.7 379.3h1.5v1.5h-1.5zM340.3 385.7h1.5v1.5h-1.5zM302.8 386.4h1.5v1.5h-1.5zM304.1 389.2h1.5v1.5h-1.5zM301.7 391.3h1.5v1.5h-1.5zM301.7 398.2h1.5v1.5h-1.5zM303.8 402.4h1.5v1.5h-1.5zM358.5 396.2h1.5v1.5h-1.5zM343.3 400.3h1.5v1.5h-1.5zM333.4 405.0h1.5v1.5h-1.5zM341.4 405.7h1.5v1.5h-1.5zM289.3 406.5h1.5v1.5h-1.5zM285.4 413.0h1.5v1.5h-1.5zM289.3 417.7h1.5v1.5h-1.5zM282.8 416.6h1.5v1.5h-1.5zM319.3 411.4h1.5v1.5h-1.5zM326.8 415.7h1.5v1.5h-1.5zM356.6 411.9h1.5v1.5h-1.5zM366.9 413.8h1.5v1.5h-1.5zM374.0 414.7h1.5v1.5h-1.5zM378.9 406.9h1.5v1.5h-1.5zM315.0 423.0h1.5v1.5h-1.5zM352.9 423.0h1.5v1.5h-1.5zM358.9 424.1h1.5v1.5h-1.5zM283.9 426.2h1.5v1.5h-1.5zM379.3 389.8h1.5v1.5h-1.5z" fill="#e0703a" fill-opacity="0.8"/><ellipse cx="315.8" cy="367.2" rx="10.9" ry="8.4" fill="#de5616"/><path d="M326 367.5h1M305 370.5h1M315 375.5h1M319 358.5h1M326 366.5h1M314 358.5h1M326 365.5h1M325 364.5h1M325 363.5h1M312 358.5h1M308 373.5h1M311 374.5h1M320 359.5h1M326 368.5h1M314 375.5h1M306 361.5h1M323 361.5h1M316 358.5h1M317 375.5h1M309 359.5h1M304 366.5h1M313 358.5h1M325 369.5h1M321 373.5h1M324 371.5h1M307 360.5h1M310 359.5h1M304 369.5h1M304 364.5h1M304 367.5h1M308 360.5h1" stroke="#de5616" stroke-width="1" fill="none" shape-rendering="crispEdges"/><path d="M314 363.5h1M318 364.5h1M314 362.5h1M316 363.5h1M321 362.5h1M319 365.5h1M314 361.5h1M313 370.5h1M314 360.5h1M317 372.5h1M322 367.5h1M310 366.5h1M309 363.5h1M323 367.5h1M314 372.5h1M309 370.5h1M307 363.5h1M319 360.5h1M308 367.5h1M320 369.5h1M322 365.5h1M321 370.5h1M323 364.5h1M318 367.5h1M307 368.5h1M316 371.5h1M316 364.5h1M306 367.5h1M312 363.5h1M315 364.5h1M306 368.5h1M323 369.5h1M315 366.5h1M312 366.5h1M316 361.5h1M313 360.5h1M316 359.5h1M319 368.5h1M317 360.5h1M318 362.5h1M313 363.5h1M308 371.5h1M318 371.5h1M309 361.5h1M306 365.5h1M320 371.5h1M321 360.5h1M316 368.5h1M311 368.5h1M314 366.5h1M312 365.5h1M311 365.5h1" stroke="#e96e2c" stroke-width="1" fill="none" shape-rendering="crispEdges"/><path d="M313 372.5h1M323 368.5h1M314 362.5h1M314 359.5h1M317 363.5h1M311 369.5h1M318 364.5h1M314 365.5h1M320 369.5h1M307 366.5h1M318 372.5h1M311 359.5h1M310 364.5h1M318 370.5h1M312 368.5h1M315 359.5h1M308 369.5h1M321 368.5h1M316 359.5h1M321 371.5h1M319 360.5h1M307 369.5h1M315 372.5h1M311 373.5h1M310 367.5h1M318 362.5h1M308 364.5h1M324 366.5h1M321 361.5h1M314 366.5h1M318 361.5h1M319 369.5h1M315 370.5h1M316 365.5h1M316 372.5h1M319 372.5h1M321 370.5h1M308 368.5h1M315 363.5h1M314 363.5h1M314 368.5h1M322 366.5h1M314 361.5h1M321 362.5h1M309 368.5h1M313 361.5h1M323 367.5h1M308 365.5h1M306 365.5h1M309 370.5h1M313 362.5h1M322 362.5h1M318 366.5h1M309 363.5h1M323 364.5h1" stroke="#cf4a14" stroke-width="1" fill="none" shape-rendering="crispEdges"/>
<rect x="282.4" y="330.4" width="99.0" height="97.5" fill="none" stroke="#4a1c18" stroke-width="1"/>
<rect x="550.8" y="227.4" width="98.0" height="97.1" fill="#ffffff"/>
<ellipse cx="572.5" cy="264.1" rx="9.3" ry="9.3" fill="#e45e1a"/><path d="M581 265.5h1M581 260.5h1M562 262.5h1M563 260.5h1M573 273.5h1M580 267.5h1M562 266.5h1M566 271.5h1M567 271.5h1M580 258.5h1M569 272.5h1M573 272.5h1M568 254.5h1M581 262.5h1M574 272.5h1M563 259.5h1M563 258.5h1M581 261.5h1M576 271.5h1M580 268.5h1M565 270.5h1M578 257.5h1M577 256.5h1M579 268.5h1M570 273.5h1M579 258.5h1M575 254.5h1M566 255.5h1M576 255.5h1" stroke="#e45e1a" stroke-width="1" fill="none" shape-rendering="crispEdges"/><path d="M569 267.5h1M578 262.5h1M571 261.5h1M569 257.5h1M569 260.5h1M576 259.5h1M569 256.5h1M570 266.5h1M579 263.5h1M572 255.5h1M564 264.5h1M567 265.5h1M573 258.5h1M573 266.5h1M566 258.5h1M572 270.5h1M576 264.5h1M574 268.5h1M575 269.5h1M578 260.5h1M564 266.5h1M565 266.5h1M568 260.5h1M570 264.5h1M568 267.5h1M564 265.5h1M577 259.5h1M572 263.5h1M572 258.5h1M571 255.5h1M567 267.5h1M571 270.5h1M568 256.5h1M574 257.5h1M578 263.5h1M566 269.5h1M571 265.5h1M568 271.5h1M579 260.5h1M571 260.5h1M571 258.5h1M571 262.5h1M570 258.5h1M567 260.5h1M573 269.5h1M576 268.5h1M570 263.5h1M570 260.5h1" stroke="#e96e2c" stroke-width="1" fill="none" shape-rendering="crispEdges"/><path d="M573 255.5h1M573 259.5h1M573 271.5h1M573 266.5h1M573 257.5h1M571 269.5h1M573 258.5h1M572 256.5h1M574 266.5h1M575 265.5h1M567 261.5h1M569 261.5h1M577 264.5h1M577 265.5h1M570 270.5h1M568 268.5h1M573 265.5h1M568 260.5h1M571 258.5h1M567 259.5h1M576 263.5h1M571 262.5h1M567 267.5h1M576 265.5h1M569 268.5h1M573 267.5h1M569 255.5h1M576 270.5h1M566 261.5h1M569 264.5h1M574 267.5h1M571 260.5h1M573 269.5h1M566 267.5h1M567 266.5h1M569 267.5h1M579 267.5h1M570 265.5h1M566 260.5h1M569 271.5h1M578 267.5h1M580 263.5h1M567 270.5h1M567 260.5h1M567 264.5h1M565 268.5h1M565 265.5h1M571 267.5h1M569 269.5h1M569 256.5h1M570 258.5h1" stroke="#cf4a14" stroke-width="1" fill="none" shape-rendering="crispEdges"/><path d="M616 230.5h1" stroke="#eaa0a0" stroke-width="1"/><path d="M625 310.5h1" stroke="#e8dcc8" stroke-width="1"/>
<rect x="550.8" y="227.4" width="98.0" height="97.1" fill="none" stroke="#4a1c18" stroke-width="1"/>
<path d="M91.55 424.35L96.95 424.35 M91.55 406.33L96.95 406.33 M91.55 393.54L96.95 393.54 M91.55 383.63L96.95 383.63 M91.55 375.53L96.95 375.53 M91.55 368.68L96.95 368.68 M91.55 362.74L96.95 362.74 M91.55 357.51L96.95 357.51 M91.55 352.82L102.25 352.82 M91.55 322.02L96.95 322.02 M91.55 304.00L96.95 304.00 M91.55 291.22L96.95 291.22 M91.55 281.30L96.95 281.30 M91.55 273.20L96.95 273.20 M91.55 266.35L96.95 266.35 M91.55 260.42L96.95 260.42 M91.55 255.18L96.95 255.18 M91.55 250.50L102.25 250.50 M91.55 219.70L96.95 219.70 M91.55 201.68L96.95 201.68 M91.55 188.89L96.95 188.89 M91.55 178.98L96.95 178.98 M91.55 170.88L96.95 170.88 M91.55 164.03L96.95 164.03 M91.55 158.09L96.95 158.09 M91.55 152.86L96.95 152.86 M91.55 148.18L102.25 148.18 M91.55 117.37L96.95 117.37 M91.55 99.35L96.95 99.35 M91.55 86.57L96.95 86.57 M91.55 76.65L96.95 76.65 M91.55 68.55L96.95 68.55 M91.55 61.70L96.95 61.70 M91.55 55.77L96.95 55.77 M91.55 50.53L96.95 50.53 M148.51 455.15L148.51 451.05 M181.84 455.15L181.84 451.05 M205.48 455.15L205.48 451.05 M223.82 455.15L223.82 451.05 M238.80 455.15L238.80 451.05 M251.47 455.15L251.47 451.05 M262.44 455.15L262.44 451.05 M272.12 455.15L272.12 451.05 M280.78 455.15L280.78 446.95 M337.75 455.15L337.75 451.05 M371.07 455.15L371.07 451.05 M394.71 455.15L394.71 451.05 M413.05 455.15L413.05 451.05 M428.04 455.15L428.04 451.05 M440.70 455.15L440.70 451.05 M451.68 455.15L451.68 451.05 M461.36 455.15L461.36 451.05 M470.02 455.15L470.02 446.95 M526.98 455.15L526.98 451.05 M560.30 455.15L560.30 451.05 M583.95 455.15L583.95 451.05 M602.29 455.15L602.29 451.05 M617.27 455.15L617.27 451.05 M629.94 455.15L629.94 451.05 M640.91 455.15L640.91 451.05 M650.59 455.15L650.59 451.05 M97.66 45.85L97.66 54.05 M223.60 45.85L223.60 54.05 M323.57 45.85L323.57 54.05 M394.49 45.85L394.49 54.05 M494.46 45.85L494.46 54.05 M565.39 45.85L565.39 54.05 M620.41 45.85L620.41 54.05" stroke="#111" stroke-width="1.4" fill="none"/>
<rect x="91.55" y="45.85" width="567.7" height="409.3" fill="none" stroke="#111" stroke-width="1.45" stroke-linejoin="round"/>
<line x1="589.3" y1="150.9" x2="595.1" y2="164.2" stroke="#000" stroke-width="1.6"/>
<polygon points="598.2,171.1 590.6,163.6 595.1,164.2 597.7,160.4" fill="#000"/>
<line x1="605.3" y1="227.1" x2="614.2" y2="206.8" stroke="#000" stroke-width="1.6"/>
<polygon points="617.3,199.9 616.8,210.6 614.2,206.8 609.7,207.4" fill="#000"/>
<line x1="215.4" y1="352.2" x2="232.7" y2="321.8" stroke="#000" stroke-width="1.6"/>
<polygon points="236.4,315.2 234.9,325.8 232.7,321.8 228.1,322.0" fill="#000"/>
<line x1="326.8" y1="330.0" x2="294.8" y2="305.9" stroke="#000" stroke-width="1.6"/>
<polygon points="288.7,301.3 299.1,304.2 294.8,305.9 294.4,310.4" fill="#000"/>
<g opacity="0.999">
<text transform="translate(100.8,38.0) scale(1.04,1)" font-size="19.0" text-anchor="middle">0.6</text>
<text transform="translate(227.45,38.0) scale(1.04,1)" font-size="19.0" text-anchor="middle">1.0</text>
<text transform="translate(327.65,38.0) scale(1.04,1)" font-size="19.0" text-anchor="middle">1.5</text>
<text transform="translate(397.5,38.0) scale(1.04,1)" font-size="19.0" text-anchor="middle">2.0</text>
<text transform="translate(497.45000000000005,38.0) scale(1.04,1)" font-size="19.0" text-anchor="middle">3.0</text>
<text transform="translate(568.45,38.0) scale(1.04,1)" font-size="19.0" text-anchor="middle">4.0</text>
<text transform="translate(623.5,38.0) scale(1.04,1)" font-size="19.0" text-anchor="middle">5.0</text>
<text transform="translate(84.2,59.3) scale(1.04,1)" font-size="19.0" text-anchor="end">10.000</text>
<text transform="translate(84.2,155.4) scale(1.04,1)" font-size="19.0" text-anchor="end">1.000</text>
<text transform="translate(84.2,257.6) scale(1.04,1)" font-size="19.0" text-anchor="end">0.100</text>
<text transform="translate(84.2,359.8) scale(1.04,1)" font-size="19.0" text-anchor="end">0.010</text>
<text transform="translate(87.60000000000001,454.7) scale(1.04,1)" font-size="19.0" text-anchor="end">0.001</text>
<text transform="translate(91.0,475.2) scale(1.04,1)" font-size="19.0" text-anchor="middle">10</text>
<text transform="translate(281.6,475.2) scale(1.04,1)" font-size="19.0" text-anchor="middle">100</text>
<text transform="translate(469.3,475.2) scale(1.04,1)" font-size="19.0" text-anchor="middle">1,000</text>
<text transform="translate(656.6,475.2) scale(1.04,1)" font-size="19.0" text-anchor="middle">10,000</text>
<text transform="translate(338.4,499.6) scale(1.2,1)" font-size="20" class="it">ρ</text>
<text x="355.8" y="499.6" font-size="19.7">(kg m</text>
<text x="404.0" y="492.6" font-size="13.5">−3</text>
<text x="418.7" y="499.6" font-size="19.8">)</text>
<text transform="translate(17.1,298.6) rotate(-90)" font-size="19.8"><tspan class="si">c</tspan><tspan font-size="13.5" dy="6">st</tspan><tspan dy="-6"> (cm s</tspan><tspan font-size="13.5" dy="-7">−1</tspan><tspan dy="7">)</tspan></text>
<text transform="translate(360.2,9.6)" font-size="19.8"><tspan class="si">r</tspan><tspan font-size="13.8" dy="7">H</tspan></text>
<text transform="translate(127.3,78.3) scale(1.42,1)" font-size="17" class="it">τ</text>
<text transform="translate(141.3,78.3) scale(1.04,1)" font-size="19.0">=</text>
<text transform="translate(158.6,78.3) scale(1.04,1)" font-size="19.0">0.25</text>
<text transform="translate(97.2,343.9) scale(1.04,1)" font-size="19.0"><tspan class="it" font-size="20">ε</tspan> = 0.5</text>
<text transform="translate(111.6,176.2) scale(1.012,1)" font-size="17.0" text-anchor="start">Model 4</text>
<text transform="translate(111.6,221.0) scale(1.012,1)" font-size="17.0" text-anchor="start">Model 3</text>
<text transform="translate(111.6,255.8) scale(1.012,1)" font-size="17.0" text-anchor="start">Model 2</text>
<text transform="translate(105.7,303.3) scale(1.012,1)" font-size="17.0" text-anchor="start">Model 1</text>
<text x="433.7" y="299.9" font-size="19" class="si">v</text>
<text x="443.0" y="306.5" font-size="14.1">esc</text>
</g>
</svg></body></html>
